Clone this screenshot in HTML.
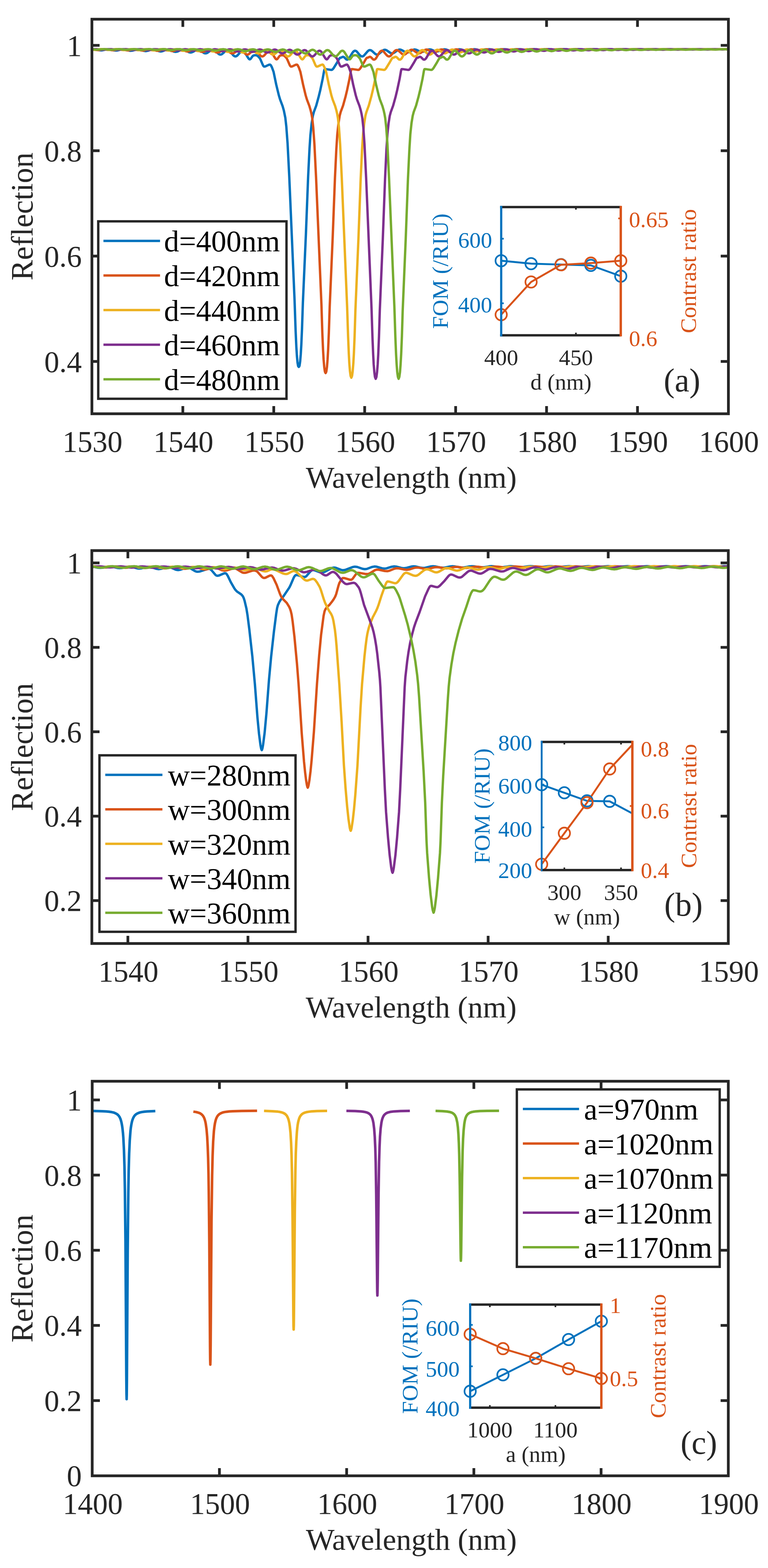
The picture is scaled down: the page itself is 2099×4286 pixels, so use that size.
<!DOCTYPE html><html><head><meta charset="utf-8"><style>html,body{margin:0;padding:0;background:#fff;}svg{display:block;}text{font-family:'Liberation Serif', 'Times New Roman', serif;}</style></head><body><svg width="2099" height="4286" viewBox="0 0 2099 4286" font-family="'Liberation Serif', 'Times New Roman', serif">
<rect width="2099" height="4286" fill="#fff"/>
<defs><clipPath id="clipA"><rect x="251.2" y="52.5" width="1739.6" height="1078.5"/></clipPath><clipPath id="clipB"><rect x="251.0" y="1505" width="1739.5" height="1074"/></clipPath><clipPath id="clipC"><rect x="252.0" y="2955.5" width="1738.5" height="1078.5"/></clipPath></defs>
<g clip-path="url(#clipA)">
<path d="M251.2 134.7 L258.7 134.6 L271.1 137.3 L276.3 137.7 L281.3 137.2 L292.2 134.8 L297.4 134.5 L302.1 135.2 L312.1 137.8 L316.8 138.2 L322.0 137.7 L332.7 134.9 L337.7 134.6 L342.7 135.3 L353.1 138.4 L357.6 138.9 L362.8 138.2 L373.5 135.1 L378.2 134.6 L383.4 135.5 L393.8 139.1 L398.3 139.7 L403.5 138.9 L414.2 135.3 L418.9 134.8 L424.2 135.8 L434.6 140.0 L439.3 140.7 L444.5 139.7 L455.0 135.5 L459.5 134.9 L464.7 136.0 L475.6 141.2 L480.1 141.9 L485.3 140.8 L495.7 135.9 L500.2 135.1 L502.7 135.5 L505.4 136.5 L516.4 142.7 L520.8 143.6 L523.3 143.3 L526.1 142.3 L536.5 136.4 L541.0 135.5 L543.7 136.0 L546.4 137.3 L557.1 144.7 L559.4 145.6 L561.6 145.9 L564.1 145.5 L566.8 144.4 L577.3 137.1 L579.5 136.2 L581.7 136.0 L584.5 136.7 L587.2 138.2 L597.9 147.6 L600.1 148.8 L602.4 149.2 L604.6 148.9 L606.8 147.8 L617.3 138.7 L619.7 137.4 L622.2 136.9 L624.5 137.4 L627.0 138.9 L629.7 141.6 L638.1 151.7 L640.9 153.7 L643.4 154.3 L645.8 153.7 L648.6 151.8 L658.8 140.3 L661.0 138.9 L663.2 138.6 L665.7 139.6 L668.5 142.3 L677.9 157.8 L679.9 160.5 L681.6 162.0 L683.1 162.2 L684.9 161.1 L690.1 153.9 L692.3 151.9 L695.3 151.1 L701.0 151.1 L704.5 153.1 L710.0 159.0 L712.2 163.2 L718.2 177.3 L719.6 179.9 L721.1 181.6 L722.4 182.0 L725.1 181.6 L733.6 177.6 L736.5 176.7 L738.5 176.7 L740.5 178.7 L743.5 184.8 L747.7 196.4 L754.9 231.0 L761.9 259.8 L765.4 271.6 L772.3 289.8 L775.8 302.1 L779.8 321.9 L782.5 345.7 L786.0 392.5 L790.5 481.1 L805.1 821.4 L807.9 903.1 L809.9 947.7 L811.4 971.9 L813.1 990.8 L814.6 999.7 L815.6 1002.0 L816.6 1003.0 L817.6 1002.0 L818.6 999.7 L820.3 988.6 L822.0 968.4 L823.5 942.9 L825.5 896.5 L827.8 827.4 L836.0 641.5 L842.2 481.8 L845.9 406.6 L848.4 368.9 L851.9 336.4 L855.1 316.3 L857.8 306.2 L864.3 288.6 L871.2 263.3 L875.5 245.7 L881.9 215.4 L885.7 194.1 L886.7 190.3 L887.4 188.9 L891.6 189.1 L904.0 190.9 L906.5 190.9 L908.0 190.4 L910.0 188.6 L912.0 186.0 L921.2 171.0 L926.2 162.1 L928.9 158.6 L930.1 157.8 L932.6 157.4 L936.4 155.4 L938.3 155.3 L940.6 156.5 L946.5 162.4 L948.5 163.0 L950.5 162.7 L952.5 161.3 L954.7 158.6 L962.2 145.9 L964.9 142.0 L967.7 139.5 L970.2 138.6 L972.6 139.1 L975.1 140.9 L982.8 150.0 L985.3 152.4 L987.5 153.8 L989.8 154.3 L992.0 153.8 L994.5 152.2 L1004.7 140.3 L1007.2 138.2 L1009.4 137.1 L1011.9 137.0 L1014.6 137.9 L1017.4 139.9 L1025.6 147.3 L1028.3 148.8 L1030.8 149.2 L1033.3 148.7 L1036.0 147.1 L1046.9 137.6 L1049.4 136.4 L1051.7 136.0 L1054.1 136.4 L1056.6 137.5 L1067.1 144.7 L1069.3 145.6 L1071.5 145.9 L1074.0 145.5 L1076.8 144.3 L1087.7 136.7 L1090.2 135.8 L1092.4 135.5 L1094.9 135.8 L1097.4 136.7 L1107.8 142.6 L1112.3 143.6 L1114.8 143.3 L1117.5 142.3 L1128.5 136.2 L1133.2 135.1 L1138.1 136.1 L1148.6 141.1 L1153.1 141.9 L1158.3 140.9 L1169.2 135.8 L1173.9 134.9 L1178.2 135.5 L1188.6 139.7 L1193.8 140.7 L1198.3 140.0 L1209.2 135.7 L1214.7 134.8 L1219.7 135.5 L1230.3 139.1 L1234.8 139.7 L1240.0 138.9 L1250.7 135.2 L1255.4 134.6 L1260.4 135.3 L1271.1 138.4 L1275.6 138.9 L1280.8 138.2 L1291.5 135.1 L1296.2 134.5 L1301.2 135.1 L1311.9 137.8 L1316.3 138.2 L1321.6 137.7 L1332.2 134.9 L1337.0 134.5 L1341.9 134.9 L1352.6 137.4 L1357.1 137.7 L1362.3 137.2 L1373.0 134.8 L1377.7 134.4 L1382.7 134.8 L1393.4 137.0 L1397.8 137.3 L1402.3 136.9 L1413.0 134.8 L1418.2 134.4 L1422.7 134.6 L1433.4 136.5 L1438.6 136.9 L1443.1 136.6 L1453.8 134.8 L1459.0 134.3 L1463.5 134.6 L1474.1 136.2 L1479.4 136.6 L1499.7 134.3 L1520.1 136.3 L1540.5 134.3 L1560.9 136.1 L1581.2 134.3 L1601.6 135.9 L1622.0 134.2 L1642.4 135.7 L1662.8 134.2 L1683.1 135.5 L1703.5 134.2 L1723.9 135.4 L1744.3 134.2 L1764.7 135.3 L1784.8 134.2 L1805.4 135.2 L1825.5 134.2 L1846.2 135.1 L1866.3 134.2 L1886.9 135.0 L1906.8 134.2 L1927.7 134.9 L1946.8 134.2 L1968.4 134.8 L1990.8 134.2" fill="none" stroke="#0072BD" stroke-width="6.5" stroke-linejoin="round" stroke-linecap="butt"/>
<path d="M251.2 134.6 L262.9 136.5 L268.1 136.9 L273.1 136.5 L284.0 134.6 L289.5 134.4 L293.9 134.9 L303.9 136.9 L308.6 137.3 L313.8 136.8 L324.5 134.7 L329.5 134.4 L334.5 135.0 L344.6 137.3 L349.4 137.7 L354.6 137.2 L365.3 134.8 L370.0 134.5 L375.2 135.1 L385.6 137.8 L390.1 138.2 L395.3 137.7 L406.0 134.9 L410.7 134.6 L416.0 135.3 L426.4 138.4 L430.9 138.9 L436.1 138.2 L446.8 135.1 L451.5 134.6 L456.7 135.5 L467.2 139.1 L471.6 139.7 L476.9 138.9 L487.5 135.3 L492.0 134.8 L497.2 135.7 L507.9 140.0 L512.6 140.7 L517.9 139.7 L528.3 135.5 L532.8 134.9 L538.0 136.0 L548.9 141.2 L553.4 141.9 L558.6 140.8 L569.0 135.9 L573.5 135.1 L576.0 135.5 L578.7 136.5 L589.7 142.7 L594.1 143.6 L596.6 143.3 L599.4 142.3 L609.8 136.4 L614.3 135.5 L617.0 136.0 L619.7 137.3 L630.4 144.7 L632.7 145.6 L634.9 145.9 L637.4 145.5 L640.1 144.4 L650.6 137.1 L652.8 136.2 L655.0 136.0 L657.8 136.7 L660.5 138.2 L671.2 147.6 L673.4 148.8 L675.7 149.2 L677.9 148.9 L680.1 147.8 L690.6 138.7 L693.1 137.4 L695.5 136.9 L697.8 137.4 L700.3 138.9 L703.0 141.6 L711.4 151.7 L714.2 153.7 L716.7 154.3 L718.9 153.8 L721.1 152.4 L723.6 150.0 L731.3 140.9 L733.8 139.1 L736.3 138.6 L739.0 139.6 L741.8 142.3 L751.2 157.8 L753.2 160.5 L754.9 162.0 L756.4 162.2 L758.2 161.1 L763.4 153.9 L765.6 151.9 L768.6 151.1 L774.3 151.1 L777.8 153.1 L783.3 159.0 L785.5 163.2 L791.5 177.3 L793.0 179.9 L794.5 181.6 L795.7 182.0 L798.4 181.6 L806.9 177.6 L809.9 176.7 L811.8 176.7 L813.6 178.4 L816.6 184.2 L821.0 196.4 L828.3 231.0 L835.2 259.8 L838.7 271.6 L845.6 289.8 L849.1 302.1 L851.4 312.0 L853.4 323.5 L856.1 348.4 L859.3 393.4 L863.8 484.3 L878.5 832.2 L880.9 908.5 L882.9 956.0 L884.4 982.3 L886.2 1003.4 L887.9 1015.4 L888.9 1018.2 L889.9 1019.7 L890.9 1018.2 L891.9 1015.4 L893.6 1003.4 L895.3 982.3 L896.8 956.0 L898.8 908.5 L901.1 838.3 L909.3 648.2 L915.5 485.3 L919.2 408.1 L921.7 369.2 L924.9 338.3 L928.4 316.3 L931.1 306.2 L937.6 288.6 L944.6 263.3 L948.8 245.7 L955.2 215.4 L959.0 194.1 L960.0 190.3 L960.7 188.9 L964.9 189.1 L977.4 190.9 L979.8 190.9 L981.3 190.4 L983.3 188.6 L985.3 186.0 L994.5 171.0 L999.5 162.1 L1002.2 158.6 L1003.5 157.8 L1005.9 157.4 L1009.7 155.4 L1011.7 155.3 L1013.9 156.5 L1019.9 162.4 L1021.8 163.0 L1023.8 162.7 L1025.8 161.3 L1028.1 158.6 L1035.5 145.9 L1038.2 142.0 L1041.0 139.5 L1043.5 138.6 L1045.9 139.1 L1048.4 140.9 L1056.1 150.0 L1058.6 152.4 L1060.9 153.8 L1063.1 154.3 L1065.3 153.8 L1067.8 152.2 L1078.0 140.3 L1080.5 138.2 L1082.7 137.1 L1085.2 137.0 L1087.9 137.9 L1090.7 139.9 L1098.9 147.3 L1101.6 148.8 L1104.1 149.2 L1106.6 148.7 L1109.3 147.1 L1120.3 137.6 L1122.7 136.4 L1125.0 136.0 L1127.5 136.4 L1129.9 137.5 L1140.4 144.7 L1142.6 145.6 L1144.9 145.9 L1147.3 145.5 L1150.1 144.3 L1161.0 136.7 L1163.5 135.8 L1165.7 135.5 L1168.2 135.8 L1170.7 136.7 L1181.1 142.6 L1185.6 143.6 L1188.1 143.3 L1190.8 142.3 L1201.8 136.2 L1206.5 135.1 L1211.5 136.1 L1221.9 141.1 L1226.4 141.9 L1231.6 140.9 L1242.5 135.8 L1247.2 134.9 L1251.5 135.5 L1261.9 139.7 L1267.1 140.7 L1271.6 140.0 L1282.5 135.7 L1288.0 134.8 L1293.0 135.5 L1303.7 139.1 L1308.1 139.7 L1313.4 138.9 L1324.0 135.2 L1328.8 134.6 L1333.7 135.3 L1344.4 138.4 L1348.9 138.9 L1354.1 138.2 L1364.8 135.1 L1369.5 134.5 L1374.5 135.1 L1385.2 137.8 L1389.6 138.2 L1394.9 137.7 L1405.5 134.9 L1410.3 134.5 L1415.2 134.9 L1425.9 137.4 L1430.4 137.7 L1435.6 137.2 L1446.3 134.8 L1451.0 134.4 L1456.0 134.8 L1466.7 137.0 L1471.2 137.3 L1475.6 136.9 L1486.3 134.8 L1491.5 134.4 L1496.0 134.6 L1506.7 136.5 L1511.9 136.9 L1516.4 136.6 L1527.1 134.8 L1532.3 134.3 L1536.8 134.6 L1547.5 136.2 L1552.7 136.6 L1573.0 134.3 L1593.4 136.3 L1613.8 134.3 L1634.2 136.1 L1654.6 134.3 L1674.9 135.9 L1695.3 134.2 L1715.7 135.7 L1736.1 134.2 L1756.5 135.5 L1776.8 134.2 L1797.2 135.4 L1817.6 134.2 L1838.0 135.3 L1858.1 134.2 L1878.5 135.2 L1898.8 134.2 L1919.2 135.1 L1939.4 134.2 L1959.5 135.0 L1979.4 134.2 L1990.8 134.5" fill="none" stroke="#D95319" stroke-width="6.5" stroke-linejoin="round" stroke-linecap="butt"/>
<path d="M251.2 136.0 L259.4 136.2 L272.1 134.6 L277.3 134.3 L282.3 134.7 L293.2 136.4 L298.4 136.6 L313.1 134.6 L317.8 134.3 L323.0 134.8 L333.7 136.6 L338.7 136.9 L343.6 136.5 L353.8 134.7 L358.6 134.4 L363.8 134.8 L374.5 136.9 L379.2 137.3 L384.4 136.8 L394.8 134.7 L399.3 134.4 L404.5 134.9 L415.2 137.3 L419.9 137.7 L425.2 137.2 L435.6 134.8 L440.1 134.5 L445.3 135.1 L456.0 137.8 L460.7 138.2 L465.9 137.6 L476.4 134.9 L480.8 134.5 L486.0 135.2 L496.7 138.4 L501.5 138.9 L506.7 138.2 L517.1 135.1 L521.6 134.6 L526.8 135.4 L537.5 139.1 L542.2 139.7 L547.4 138.9 L557.9 135.3 L562.3 134.8 L567.6 135.7 L578.2 140.0 L583.0 140.7 L588.2 139.7 L598.6 135.5 L603.1 134.9 L608.3 136.0 L619.2 141.2 L623.7 141.9 L628.9 140.8 L639.4 135.9 L643.9 135.1 L646.3 135.5 L649.1 136.5 L660.0 142.7 L664.5 143.6 L669.0 142.6 L679.4 136.7 L681.9 135.8 L684.4 135.5 L686.6 135.8 L689.1 136.7 L700.0 144.3 L702.8 145.5 L705.2 145.9 L707.5 145.6 L709.7 144.7 L720.1 137.5 L722.6 136.4 L725.1 136.0 L727.9 136.6 L730.6 138.1 L741.8 147.8 L744.0 148.8 L746.2 149.2 L748.7 148.7 L751.5 147.2 L761.6 138.2 L763.9 137.2 L765.9 136.9 L768.1 137.4 L770.6 138.9 L773.3 141.6 L781.8 151.7 L784.5 153.7 L787.0 154.3 L789.2 153.8 L791.5 152.4 L794.0 150.0 L801.7 140.9 L804.1 139.1 L806.6 138.6 L809.4 139.6 L812.1 142.3 L821.5 157.8 L823.5 160.5 L825.3 162.0 L826.8 162.2 L828.5 161.1 L833.7 153.9 L836.0 151.9 L838.9 151.1 L844.7 151.1 L848.1 153.1 L853.6 159.0 L855.8 163.2 L861.8 177.3 L863.3 179.9 L864.8 181.6 L866.0 182.0 L868.8 181.6 L877.0 177.7 L879.9 176.7 L881.9 176.6 L883.7 178.1 L886.9 184.2 L891.4 196.4 L898.6 231.0 L905.5 259.8 L909.0 271.6 L916.0 289.8 L919.5 302.1 L921.7 312.0 L923.7 323.5 L926.4 348.4 L929.6 394.1 L934.1 486.8 L948.8 840.5 L951.3 917.9 L953.3 966.2 L954.7 993.1 L956.5 1014.9 L958.2 1027.6 L960.2 1032.6 L962.2 1027.6 L963.9 1014.9 L965.7 993.1 L967.2 966.2 L969.2 917.9 L971.4 846.8 L979.6 653.3 L985.8 488.0 L989.5 409.3 L992.3 366.4 L995.5 336.4 L998.7 316.3 L1001.5 306.2 L1007.9 288.6 L1014.9 263.3 L1019.1 245.7 L1025.6 215.4 L1029.3 194.1 L1030.3 190.3 L1031.0 188.9 L1035.3 189.1 L1047.7 190.9 L1050.2 190.9 L1051.7 190.4 L1053.7 188.6 L1055.6 186.0 L1064.8 171.0 L1069.8 162.1 L1072.5 158.6 L1073.8 157.8 L1076.3 157.4 L1080.0 155.4 L1082.0 155.3 L1084.2 156.5 L1090.2 162.4 L1092.2 163.0 L1094.2 162.7 L1096.1 161.3 L1098.4 158.6 L1105.8 145.9 L1108.6 142.0 L1111.3 139.5 L1113.8 138.6 L1116.3 139.1 L1118.8 140.9 L1126.5 150.0 L1129.0 152.4 L1131.2 153.8 L1133.4 154.3 L1135.9 153.7 L1138.6 151.7 L1147.1 141.6 L1149.8 138.9 L1152.3 137.4 L1154.5 136.9 L1156.5 137.2 L1158.8 138.2 L1169.0 147.2 L1171.7 148.7 L1174.2 149.2 L1176.4 148.8 L1178.7 147.8 L1189.8 138.1 L1192.6 136.6 L1195.3 136.0 L1197.8 136.4 L1200.3 137.5 L1210.7 144.7 L1213.0 145.6 L1215.2 145.9 L1217.7 145.5 L1220.4 144.3 L1231.3 136.7 L1233.8 135.8 L1236.1 135.5 L1238.5 135.8 L1241.0 136.7 L1251.5 142.6 L1255.9 143.6 L1258.4 143.3 L1261.2 142.3 L1272.1 136.2 L1276.8 135.1 L1281.8 136.1 L1292.2 141.1 L1296.7 141.9 L1301.9 140.9 L1312.9 135.8 L1317.6 134.9 L1321.8 135.5 L1332.2 139.7 L1337.5 140.7 L1341.9 140.0 L1352.9 135.7 L1358.3 134.8 L1363.3 135.5 L1374.0 139.1 L1378.5 139.7 L1383.7 138.9 L1394.4 135.2 L1399.1 134.6 L1404.1 135.3 L1414.7 138.4 L1419.2 138.9 L1424.4 138.2 L1435.1 135.1 L1439.8 134.5 L1444.8 135.1 L1455.5 137.8 L1460.0 138.2 L1465.2 137.7 L1475.9 134.9 L1480.6 134.5 L1485.6 134.9 L1496.3 137.4 L1500.7 137.7 L1505.9 137.2 L1516.6 134.8 L1521.4 134.4 L1526.3 134.8 L1537.0 137.0 L1541.5 137.3 L1546.7 136.8 L1557.4 134.7 L1562.1 134.4 L1567.1 134.7 L1577.8 136.6 L1582.2 136.9 L1586.7 136.6 L1597.4 134.8 L1602.6 134.3 L1607.1 134.6 L1617.8 136.2 L1623.0 136.6 L1643.4 134.3 L1663.8 136.3 L1684.1 134.3 L1704.5 136.1 L1724.9 134.3 L1745.0 135.9 L1765.6 134.2 L1785.8 135.7 L1806.4 134.2 L1826.5 135.5 L1847.2 134.2 L1867.0 135.4 L1887.9 134.2 L1907.5 135.3 L1928.7 134.2 L1947.8 135.2 L1969.4 134.2 L1990.8 135.1" fill="none" stroke="#EDB120" stroke-width="6.5" stroke-linejoin="round" stroke-linecap="butt"/>
<path d="M251.2 135.2 L258.2 134.4 L263.4 134.3 L278.0 135.9 L283.3 136.1 L298.4 134.5 L303.4 134.3 L318.8 136.1 L323.8 136.3 L339.2 134.5 L343.9 134.3 L348.9 134.7 L359.6 136.3 L364.3 136.6 L369.2 136.2 L379.9 134.6 L384.4 134.3 L389.6 134.8 L400.3 136.6 L405.0 136.9 L410.2 136.5 L420.7 134.6 L425.2 134.4 L430.4 134.8 L441.1 136.9 L445.8 137.3 L451.0 136.8 L461.4 134.7 L465.9 134.4 L471.1 134.9 L481.8 137.3 L486.3 137.7 L491.5 137.2 L502.2 134.8 L506.7 134.5 L511.9 135.1 L522.6 137.8 L527.1 138.2 L532.3 137.7 L543.0 134.9 L547.4 134.5 L552.6 135.2 L563.3 138.4 L567.8 138.9 L573.0 138.2 L583.7 135.1 L588.2 134.6 L593.4 135.4 L604.1 139.1 L608.8 139.7 L614.0 138.9 L624.5 135.3 L628.9 134.8 L634.2 135.7 L644.8 140.0 L649.6 140.7 L654.8 139.7 L665.2 135.5 L669.7 134.9 L674.9 136.0 L685.9 141.2 L690.3 141.9 L694.8 141.1 L705.2 136.1 L710.2 135.1 L714.9 136.2 L725.9 142.3 L728.6 143.3 L731.1 143.6 L735.6 142.6 L746.0 136.7 L748.5 135.8 L751.0 135.5 L753.2 135.8 L755.7 136.7 L766.6 144.3 L769.4 145.5 L771.8 145.9 L774.1 145.6 L776.3 144.7 L786.7 137.5 L789.2 136.4 L791.7 136.0 L794.5 136.6 L797.2 138.1 L808.4 147.8 L810.6 148.8 L812.8 149.2 L815.3 148.7 L818.1 147.2 L828.3 138.2 L830.5 137.2 L832.5 136.9 L834.7 137.4 L837.2 138.9 L839.9 141.6 L848.4 151.7 L851.1 153.7 L853.6 154.3 L855.8 153.8 L858.1 152.4 L860.6 150.0 L868.3 140.9 L870.7 139.1 L873.2 138.6 L876.0 139.6 L878.7 142.3 L888.1 157.8 L890.1 160.5 L891.9 162.0 L893.4 162.2 L895.1 161.1 L900.3 153.9 L902.6 151.9 L905.5 151.1 L911.3 151.1 L914.7 153.1 L920.2 159.0 L922.4 163.2 L928.4 177.3 L929.9 179.9 L931.4 181.6 L932.6 182.0 L935.6 181.5 L943.6 177.7 L946.3 176.8 L948.5 176.6 L950.0 177.8 L953.3 183.6 L958.0 196.4 L965.2 231.0 L972.1 259.8 L975.6 271.6 L982.6 289.8 L986.1 302.1 L988.3 312.0 L990.3 323.5 L993.0 348.4 L996.2 394.3 L1000.7 487.3 L1015.4 842.4 L1017.9 920.0 L1019.9 968.5 L1021.3 995.5 L1023.1 1017.4 L1024.8 1030.3 L1026.8 1035.5 L1028.8 1030.3 L1030.5 1017.4 L1032.3 995.5 L1033.8 968.5 L1035.8 920.0 L1038.0 848.7 L1046.2 654.5 L1052.4 488.6 L1056.1 409.6 L1058.9 366.4 L1062.1 336.4 L1065.3 316.3 L1068.1 306.2 L1074.5 288.6 L1081.5 263.3 L1085.7 245.7 L1092.2 215.4 L1095.9 194.1 L1096.9 190.3 L1097.6 188.9 L1101.9 189.1 L1114.3 190.9 L1116.8 190.9 L1118.3 190.4 L1120.3 188.6 L1122.2 186.0 L1131.4 171.0 L1136.4 162.1 L1139.1 158.6 L1140.4 157.8 L1142.9 157.4 L1146.6 155.4 L1148.6 155.3 L1150.8 156.5 L1156.8 162.4 L1158.8 163.0 L1160.8 162.7 L1162.8 161.3 L1165.0 158.6 L1172.4 145.9 L1175.2 142.0 L1177.9 139.5 L1180.4 138.6 L1182.9 139.1 L1185.4 140.9 L1193.1 150.0 L1195.6 152.4 L1197.8 153.8 L1200.0 154.3 L1202.5 153.7 L1205.2 151.7 L1213.7 141.6 L1216.4 138.9 L1218.9 137.4 L1221.2 136.9 L1223.1 137.2 L1225.4 138.2 L1235.6 147.2 L1238.3 148.7 L1240.8 149.2 L1243.0 148.8 L1245.3 147.8 L1256.4 138.1 L1259.2 136.6 L1261.9 136.0 L1264.4 136.4 L1266.9 137.5 L1277.3 144.7 L1279.6 145.6 L1281.8 145.9 L1284.3 145.5 L1287.0 144.3 L1297.9 136.7 L1300.4 135.8 L1302.7 135.5 L1305.1 135.8 L1307.6 136.7 L1318.1 142.6 L1322.5 143.6 L1325.0 143.3 L1327.8 142.3 L1338.7 136.2 L1343.4 135.1 L1348.4 136.1 L1358.8 141.1 L1363.3 141.9 L1368.5 140.9 L1379.5 135.8 L1384.2 134.9 L1388.4 135.5 L1398.8 139.7 L1404.1 140.7 L1408.5 140.0 L1419.5 135.7 L1424.9 134.8 L1429.9 135.5 L1440.6 139.1 L1445.1 139.7 L1449.5 139.1 L1460.2 135.4 L1465.4 134.6 L1469.9 135.1 L1480.6 138.2 L1485.8 138.9 L1490.3 138.4 L1501.0 135.2 L1506.2 134.5 L1510.7 134.9 L1521.4 137.7 L1526.6 138.2 L1531.0 137.8 L1541.7 135.1 L1547.0 134.5 L1551.4 134.8 L1562.1 137.2 L1567.3 137.7 L1571.8 137.3 L1582.5 134.9 L1587.7 134.4 L1592.2 134.7 L1602.9 136.8 L1608.1 137.3 L1612.6 136.9 L1623.2 134.8 L1628.5 134.4 L1632.9 134.6 L1643.6 136.5 L1648.8 136.9 L1653.3 136.6 L1664.0 134.8 L1669.2 134.3 L1673.7 134.6 L1684.4 136.2 L1689.6 136.6 L1710.0 134.3 L1730.4 136.3 L1750.7 134.3 L1771.1 136.1 L1791.5 134.3 L1811.9 135.9 L1832.0 134.2 L1852.6 135.7 L1872.8 134.2 L1893.4 135.5 L1913.3 134.2 L1934.1 135.4 L1953.3 134.2 L1974.6 135.3 L1990.8 134.3" fill="none" stroke="#7E2F8E" stroke-width="6.5" stroke-linejoin="round" stroke-linecap="butt"/>
<path d="M251.2 134.7 L264.4 135.7 L285.0 134.3 L304.6 135.9 L325.3 134.3 L345.4 136.1 L365.8 134.3 L385.9 136.3 L406.5 134.3 L426.7 136.6 L431.9 136.2 L442.6 134.6 L447.0 134.3 L452.2 134.8 L462.9 136.6 L467.4 136.9 L472.6 136.5 L483.3 134.6 L487.8 134.4 L493.0 134.8 L503.7 136.9 L508.2 137.3 L513.4 136.8 L524.1 134.7 L528.5 134.4 L533.8 134.9 L544.4 137.3 L548.9 137.7 L554.1 137.2 L564.8 134.8 L569.3 134.5 L574.5 135.1 L585.2 137.8 L589.7 138.2 L594.9 137.7 L605.6 134.9 L610.1 134.5 L615.3 135.2 L626.0 138.4 L630.4 138.9 L635.7 138.2 L646.3 135.1 L650.8 134.6 L656.0 135.4 L666.7 139.1 L671.2 139.7 L676.4 138.9 L687.1 135.3 L691.6 134.8 L696.8 135.7 L707.5 140.0 L712.2 140.7 L717.4 139.7 L727.9 135.5 L732.3 134.9 L737.5 136.0 L748.5 141.2 L753.0 141.9 L757.4 141.1 L767.9 136.1 L772.8 135.1 L777.6 136.2 L788.5 142.3 L791.2 143.3 L793.7 143.6 L798.2 142.6 L808.6 136.7 L811.1 135.8 L813.6 135.5 L815.8 135.8 L818.3 136.7 L829.2 144.3 L832.0 145.5 L834.5 145.9 L836.7 145.6 L838.9 144.7 L849.4 137.5 L851.9 136.4 L854.3 136.0 L857.1 136.6 L859.8 138.1 L871.0 147.8 L873.2 148.8 L875.5 149.2 L878.0 148.7 L880.7 147.2 L890.9 138.2 L893.1 137.2 L895.1 136.9 L897.3 137.4 L899.8 138.9 L902.6 141.6 L911.0 151.7 L913.7 153.7 L916.2 154.3 L918.5 153.8 L920.7 152.4 L923.2 150.0 L930.9 140.9 L933.4 139.1 L935.9 138.6 L938.6 139.6 L941.3 142.3 L950.8 157.8 L952.8 160.5 L954.5 162.0 L956.0 162.2 L957.7 161.1 L962.9 153.9 L965.2 151.9 L968.2 151.1 L973.9 151.1 L977.4 153.1 L982.8 159.0 L985.1 163.2 L991.0 177.3 L992.5 179.9 L994.0 181.6 L995.3 182.0 L998.2 181.5 L1006.2 177.7 L1008.9 176.8 L1010.9 176.6 L1012.4 177.5 L1013.9 179.5 L1015.6 183.0 L1020.6 196.4 L1027.8 231.0 L1034.8 259.8 L1038.2 271.6 L1045.2 289.8 L1048.7 302.1 L1050.9 312.0 L1052.9 323.5 L1055.6 348.4 L1058.9 394.3 L1063.3 487.3 L1078.0 842.4 L1080.5 920.0 L1082.5 968.5 L1084.0 995.5 L1085.7 1017.4 L1087.5 1030.3 L1089.4 1035.5 L1091.4 1030.3 L1093.2 1017.4 L1094.9 995.5 L1096.4 968.5 L1098.4 920.0 L1100.6 848.7 L1108.8 654.5 L1115.0 488.6 L1118.8 409.6 L1121.5 366.4 L1124.7 336.4 L1128.0 316.3 L1130.7 306.2 L1137.2 288.6 L1144.1 263.3 L1148.3 245.7 L1154.8 215.4 L1158.5 194.1 L1159.5 190.3 L1160.3 188.9 L1164.5 189.1 L1176.9 190.9 L1179.4 190.9 L1180.9 190.4 L1182.9 188.6 L1184.9 186.0 L1194.1 171.0 L1199.0 162.1 L1201.8 158.6 L1203.0 157.8 L1205.5 157.4 L1209.2 155.4 L1211.2 155.3 L1213.4 156.5 L1219.4 162.4 L1221.4 163.0 L1223.4 162.7 L1225.4 161.3 L1227.6 158.6 L1235.1 145.9 L1237.8 142.0 L1240.5 139.5 L1243.0 138.6 L1245.5 139.1 L1248.0 140.9 L1255.7 150.0 L1258.2 152.4 L1260.4 153.8 L1262.7 154.3 L1265.1 153.7 L1267.9 151.7 L1276.3 141.6 L1279.1 138.9 L1281.5 137.4 L1283.8 136.9 L1285.8 137.2 L1288.0 138.2 L1298.2 147.2 L1300.9 148.7 L1303.4 149.2 L1305.6 148.8 L1307.9 147.8 L1319.1 138.1 L1321.8 136.6 L1324.5 136.0 L1327.0 136.4 L1329.5 137.5 L1339.9 144.7 L1342.2 145.6 L1344.4 145.9 L1346.9 145.5 L1349.6 144.3 L1360.6 136.7 L1363.1 135.8 L1365.3 135.5 L1367.8 135.8 L1370.3 136.7 L1380.7 142.6 L1385.2 143.6 L1387.7 143.3 L1390.4 142.3 L1401.3 136.2 L1406.0 135.1 L1411.0 136.1 L1421.5 141.1 L1425.9 141.9 L1431.1 140.9 L1442.1 135.8 L1446.8 134.9 L1451.0 135.5 L1461.5 139.7 L1466.7 140.7 L1471.2 140.0 L1482.1 135.7 L1487.6 134.8 L1491.8 135.3 L1502.2 138.9 L1507.4 139.7 L1511.9 139.1 L1522.8 135.4 L1528.3 134.6 L1533.3 135.3 L1544.0 138.4 L1548.4 138.9 L1552.9 138.4 L1563.6 135.2 L1568.8 134.5 L1573.3 134.9 L1584.0 137.7 L1589.2 138.2 L1593.7 137.8 L1604.4 135.1 L1609.6 134.5 L1614.1 134.8 L1624.7 137.2 L1630.0 137.7 L1634.4 137.3 L1645.1 134.9 L1650.3 134.4 L1654.8 134.7 L1665.5 136.8 L1670.7 137.3 L1675.2 136.9 L1685.9 134.8 L1691.1 134.4 L1695.6 134.6 L1706.3 136.5 L1711.5 136.9 L1715.9 136.6 L1726.6 134.8 L1731.8 134.3 L1736.3 134.6 L1747.0 136.2 L1752.0 136.6 L1756.7 136.3 L1767.4 134.7 L1772.6 134.3 L1792.7 136.3 L1813.4 134.3 L1833.5 136.1 L1854.1 134.3 L1874.2 135.9 L1894.9 134.2 L1914.8 135.7 L1935.4 134.2 L1955.0 135.5 L1975.9 134.2 L1990.8 135.2" fill="none" stroke="#77AC30" stroke-width="6.5" stroke-linejoin="round" stroke-linecap="butt"/>
</g>
<g clip-path="url(#clipB)">
<path d="M251.0 1548.3 L267.4 1551.7 L274.0 1552.3 L280.5 1551.7 L295.3 1548.7 L302.2 1548.3 L308.1 1549.2 L321.2 1552.5 L327.1 1553.1 L333.7 1552.4 L348.5 1549.0 L354.7 1548.6 L360.9 1549.6 L374.4 1553.5 L380.3 1554.2 L386.9 1553.4 L401.3 1549.6 L407.6 1549.0 L413.8 1550.1 L427.6 1554.9 L433.5 1555.8 L440.0 1554.9 L454.5 1550.4 L460.7 1549.7 L467.0 1551.2 L480.7 1557.2 L486.7 1558.3 L493.2 1557.2 L508.0 1551.9 L513.9 1551.2 L519.1 1552.6 L532.9 1560.9 L536.2 1562.2 L539.2 1562.8 L543.1 1562.6 L547.4 1561.7 L565.8 1555.6 L570.0 1554.9 L573.0 1555.0 L575.3 1556.2 L577.9 1558.5 L588.7 1571.2 L591.0 1573.0 L593.3 1573.8 L595.9 1573.7 L598.9 1573.0 L609.4 1568.4 L613.3 1567.1 L616.6 1566.9 L618.9 1568.5 L622.5 1574.0 L630.7 1591.2 L639.3 1606.2 L642.9 1611.8 L647.8 1616.9 L659.3 1624.8 L661.9 1627.5 L664.2 1630.7 L666.2 1635.1 L668.5 1642.3 L673.4 1662.9 L676.4 1681.2 L681.3 1719.3 L689.8 1795.5 L696.7 1870.8 L703.6 1961.1 L707.9 2005.6 L711.8 2036.0 L713.4 2044.8 L714.8 2049.4 L715.4 2050.4 L716.1 2049.4 L717.4 2044.8 L719.0 2036.0 L723.3 2002.5 L728.2 1949.4 L735.1 1859.1 L741.0 1795.1 L748.6 1726.8 L754.8 1678.5 L757.4 1661.8 L759.4 1654.3 L763.7 1644.9 L766.9 1639.9 L774.5 1630.2 L790.6 1606.2 L793.9 1599.8 L803.0 1578.5 L805.7 1574.2 L808.3 1571.9 L810.3 1571.7 L813.5 1572.2 L827.0 1576.5 L832.9 1577.2 L835.2 1576.3 L837.5 1574.6 L848.7 1561.7 L851.3 1559.5 L853.9 1558.3 L856.9 1558.3 L860.5 1559.1 L874.9 1564.4 L877.9 1564.9 L880.8 1564.9 L884.1 1564.3 L887.7 1563.0 L903.8 1554.1 L907.7 1552.5 L911.0 1551.6 L914.3 1551.4 L917.6 1551.9 L932.0 1557.6 L935.3 1558.4 L938.3 1558.5 L941.9 1558.1 L946.1 1556.9 L963.2 1550.2 L967.1 1549.3 L970.4 1549.0 L976.3 1549.7 L990.8 1554.8 L997.3 1555.8 L1002.9 1555.0 L1017.4 1549.6 L1023.9 1548.5 L1029.5 1549.1 L1043.9 1553.4 L1050.5 1554.3 L1056.1 1553.6 L1070.5 1549.1 L1077.1 1548.2 L1082.7 1548.7 L1097.1 1552.5 L1103.7 1553.2 L1109.3 1552.6 L1123.7 1548.8 L1130.3 1548.0 L1135.8 1548.5 L1150.3 1551.8 L1156.9 1552.4 L1162.4 1551.9 L1176.9 1548.5 L1183.4 1547.8 L1189.0 1548.3 L1203.5 1551.2 L1210.0 1551.8 L1215.6 1551.4 L1230.0 1548.4 L1236.6 1547.7 L1242.2 1548.2 L1256.6 1550.8 L1263.2 1551.4 L1268.8 1551.0 L1283.2 1548.2 L1289.8 1547.7 L1295.4 1548.0 L1309.8 1550.5 L1316.4 1551.0 L1321.9 1550.6 L1336.4 1548.1 L1342.9 1547.6 L1348.5 1548.0 L1363.0 1550.2 L1369.5 1550.7 L1375.1 1550.3 L1389.2 1548.1 L1395.8 1547.6 L1401.7 1547.9 L1416.1 1550.0 L1422.7 1550.4 L1428.3 1550.1 L1442.4 1548.0 L1449.0 1547.5 L1454.9 1547.8 L1469.3 1549.8 L1475.9 1550.2 L1481.5 1549.9 L1495.6 1548.0 L1502.1 1547.5 L1508.0 1547.8 L1522.5 1549.6 L1529.0 1550.0 L1555.3 1547.5 L1582.2 1549.8 L1608.5 1547.5 L1635.4 1549.7 L1661.6 1547.5 L1688.5 1549.5 L1714.8 1547.5 L1741.7 1549.4 L1768.0 1547.4 L1794.9 1549.3 L1821.1 1547.4 L1847.7 1549.2 L1874.0 1547.4 L1900.9 1549.1 L1926.8 1547.4 L1953.7 1549.0 L1978.4 1547.5 L1990.5 1547.9" fill="none" stroke="#0072BD" stroke-width="6.5" stroke-linejoin="round" stroke-linecap="butt"/>
<path d="M251.0 1549.0 L258.2 1548.2 L263.8 1548.2 L282.2 1550.9 L288.7 1551.3 L295.3 1550.8 L310.1 1548.6 L316.6 1548.3 L322.9 1548.9 L336.7 1551.4 L342.6 1551.9 L349.1 1551.4 L364.2 1548.9 L370.5 1548.5 L376.7 1549.2 L390.8 1552.1 L396.7 1552.6 L403.3 1552.0 L418.4 1549.2 L424.3 1548.8 L430.9 1549.6 L445.0 1552.9 L450.9 1553.5 L457.4 1552.9 L472.5 1549.7 L478.4 1549.3 L485.0 1550.2 L499.1 1554.1 L505.0 1554.8 L511.6 1554.1 L526.7 1550.5 L532.6 1550.1 L539.2 1551.2 L553.3 1555.9 L559.2 1556.7 L565.8 1555.9 L580.8 1551.9 L586.8 1551.3 L589.7 1551.7 L593.3 1552.8 L607.4 1558.9 L613.0 1559.9 L619.9 1559.0 L635.0 1554.4 L640.9 1553.7 L643.5 1554.2 L646.5 1555.3 L660.3 1563.7 L663.6 1565.2 L666.5 1565.8 L669.8 1565.7 L673.7 1565.0 L690.5 1559.7 L694.7 1559.3 L697.7 1559.9 L701.3 1561.3 L703.6 1562.9 L715.4 1576.4 L718.0 1578.6 L720.7 1579.8 L723.0 1579.8 L725.9 1579.0 L734.8 1574.5 L738.4 1573.1 L741.3 1572.9 L743.6 1574.5 L747.6 1580.5 L756.1 1598.7 L765.3 1623.7 L768.6 1631.0 L773.2 1637.4 L783.7 1648.0 L789.9 1657.9 L792.2 1662.9 L794.5 1669.3 L797.1 1680.2 L799.8 1698.6 L804.7 1740.3 L811.6 1813.8 L816.2 1872.6 L824.7 2005.0 L830.9 2082.0 L833.9 2111.1 L836.5 2132.1 L838.8 2145.9 L840.1 2151.0 L841.1 2153.0 L842.1 2151.0 L843.4 2145.9 L845.7 2132.1 L848.7 2108.1 L851.6 2078.5 L857.9 2000.4 L866.4 1868.1 L872.3 1791.4 L877.5 1735.6 L884.4 1683.2 L887.1 1670.6 L889.7 1664.8 L892.6 1660.7 L900.5 1653.2 L906.8 1645.3 L912.0 1638.0 L915.9 1631.2 L918.9 1623.7 L924.8 1601.8 L927.4 1593.8 L933.0 1584.0 L935.0 1581.5 L936.6 1580.2 L937.9 1579.9 L941.2 1580.2 L954.7 1584.2 L958.0 1584.7 L960.3 1584.6 L961.9 1583.7 L963.9 1581.9 L973.1 1569.2 L975.0 1567.2 L977.0 1566.0 L978.3 1565.7 L982.2 1565.9 L998.7 1568.9 L1005.5 1569.1 L1008.2 1568.3 L1011.5 1566.8 L1023.9 1558.9 L1029.2 1557.1 L1035.4 1557.3 L1051.5 1560.8 L1058.7 1561.3 L1064.3 1560.1 L1077.1 1554.8 L1082.7 1553.3 L1089.6 1553.5 L1105.7 1556.8 L1112.5 1557.4 L1119.1 1556.3 L1132.9 1552.0 L1138.5 1551.3 L1144.4 1551.6 L1159.5 1554.5 L1166.0 1555.0 L1172.0 1554.4 L1185.7 1551.0 L1192.0 1550.2 L1198.5 1550.5 L1213.6 1553.0 L1220.5 1553.5 L1226.4 1553.0 L1239.6 1550.3 L1245.5 1549.5 L1252.4 1549.7 L1267.8 1552.1 L1274.7 1552.5 L1281.2 1551.9 L1295.7 1549.4 L1301.3 1549.0 L1307.2 1549.3 L1321.6 1551.3 L1328.5 1551.8 L1334.4 1551.4 L1348.9 1549.1 L1355.4 1548.7 L1361.3 1549.0 L1375.8 1550.8 L1382.7 1551.2 L1388.6 1550.8 L1403.0 1548.8 L1409.6 1548.4 L1436.8 1550.7 L1463.7 1548.2 L1491.0 1550.4 L1517.9 1548.1 L1545.1 1550.1 L1572.0 1548.0 L1599.3 1549.8 L1626.2 1547.9 L1653.4 1549.6 L1680.3 1547.8 L1707.6 1549.5 L1734.5 1547.8 L1761.4 1549.3 L1788.3 1547.7 L1815.6 1549.2 L1842.5 1547.7 L1869.7 1549.1 L1896.6 1547.7 L1923.5 1549.0 L1950.5 1547.6 L1976.4 1548.9 L1990.5 1548.3" fill="none" stroke="#D95319" stroke-width="6.5" stroke-linejoin="round" stroke-linecap="butt"/>
<path d="M251.0 1548.4 L266.4 1550.3 L273.6 1550.7 L280.5 1550.4 L296.3 1548.5 L303.5 1548.3 L323.5 1550.8 L330.1 1551.1 L337.0 1550.7 L352.4 1548.7 L359.3 1548.5 L365.9 1549.0 L380.0 1551.2 L386.2 1551.6 L393.4 1551.2 L408.9 1549.0 L415.4 1548.7 L422.0 1549.3 L436.8 1551.8 L442.7 1552.2 L449.9 1551.7 L465.3 1549.4 L471.9 1549.0 L478.4 1549.7 L493.2 1552.6 L499.1 1553.0 L506.3 1552.5 L521.8 1549.9 L528.0 1549.5 L534.9 1550.3 L549.7 1553.6 L555.6 1554.1 L562.8 1553.5 L578.2 1550.6 L584.5 1550.2 L591.4 1551.1 L606.1 1555.0 L612.0 1555.7 L619.2 1555.0 L634.7 1551.8 L640.9 1551.3 L646.8 1552.2 L661.3 1556.9 L667.8 1558.1 L675.4 1557.4 L691.8 1553.6 L699.0 1553.3 L704.9 1554.9 L718.7 1560.9 L724.9 1562.1 L729.9 1561.2 L740.4 1556.6 L745.3 1556.0 L748.9 1556.6 L752.8 1557.8 L771.9 1566.9 L776.5 1568.4 L780.4 1569.1 L783.4 1569.0 L786.6 1568.1 L796.5 1562.8 L799.8 1561.4 L802.7 1560.9 L805.3 1561.1 L808.6 1562.5 L812.6 1565.3 L828.0 1581.1 L831.6 1584.1 L834.9 1586.1 L837.8 1587.0 L841.1 1586.8 L851.6 1583.0 L855.6 1582.3 L858.5 1583.1 L861.5 1585.5 L866.4 1591.9 L873.6 1604.1 L877.2 1613.3 L885.1 1638.4 L888.7 1648.3 L896.9 1665.1 L899.5 1669.9 L905.1 1678.4 L907.7 1684.0 L909.4 1689.1 L911.4 1697.6 L915.3 1721.1 L917.6 1740.8 L919.9 1766.6 L927.4 1870.6 L933.7 1974.2 L939.9 2091.2 L944.5 2155.3 L948.8 2204.9 L952.4 2238.7 L956.0 2263.0 L957.6 2269.5 L958.6 2270.9 L959.6 2268.6 L960.9 2263.3 L964.2 2241.8 L967.5 2212.4 L971.1 2172.4 L977.0 2092.3 L985.5 1933.1 L989.5 1869.6 L996.0 1795.3 L999.0 1767.8 L1001.9 1745.1 L1003.9 1733.1 L1005.9 1724.0 L1008.5 1714.2 L1011.5 1705.2 L1018.7 1687.5 L1027.9 1669.9 L1031.1 1662.8 L1034.8 1652.8 L1043.0 1627.1 L1052.5 1600.5 L1055.8 1593.0 L1058.4 1589.7 L1059.7 1589.4 L1063.6 1589.8 L1078.1 1594.0 L1081.4 1594.2 L1083.3 1593.6 L1086.3 1591.5 L1089.2 1588.3 L1102.4 1570.1 L1105.3 1567.3 L1108.3 1565.8 L1110.9 1565.8 L1114.2 1566.4 L1129.6 1572.9 L1133.6 1573.8 L1136.8 1573.9 L1140.1 1573.0 L1143.4 1571.2 L1157.5 1559.8 L1161.1 1557.6 L1164.1 1556.5 L1167.0 1556.1 L1171.0 1556.8 L1174.9 1558.2 L1186.4 1563.4 L1190.0 1564.3 L1193.3 1564.5 L1196.2 1564.0 L1199.8 1562.6 L1214.6 1554.1 L1217.6 1553.0 L1220.5 1552.6 L1226.8 1553.3 L1242.5 1558.6 L1246.5 1559.5 L1249.7 1559.7 L1256.0 1558.6 L1270.1 1552.5 L1276.0 1551.0 L1279.3 1550.9 L1283.2 1551.5 L1299.3 1556.2 L1306.5 1557.1 L1313.4 1555.9 L1328.2 1550.8 L1334.1 1549.9 L1340.0 1550.5 L1355.4 1554.5 L1362.6 1555.4 L1368.5 1554.7 L1383.6 1550.2 L1390.5 1549.3 L1396.4 1549.8 L1411.9 1553.4 L1419.1 1554.2 L1425.0 1553.5 L1440.1 1549.7 L1447.0 1548.9 L1453.2 1549.4 L1468.3 1552.6 L1475.2 1553.3 L1481.5 1552.7 L1496.5 1549.3 L1503.4 1548.6 L1509.7 1549.0 L1524.8 1551.9 L1531.7 1552.6 L1537.9 1552.1 L1553.0 1549.0 L1559.9 1548.3 L1566.1 1548.8 L1581.2 1551.4 L1588.1 1552.0 L1594.4 1551.6 L1609.5 1548.8 L1616.3 1548.2 L1622.6 1548.6 L1637.7 1551.0 L1644.6 1551.6 L1650.8 1551.1 L1665.9 1548.6 L1672.8 1548.1 L1679.0 1548.4 L1694.1 1550.7 L1701.0 1551.2 L1707.3 1550.8 L1722.4 1548.5 L1729.2 1548.0 L1735.5 1548.3 L1750.6 1550.4 L1757.5 1550.9 L1763.7 1550.5 L1778.8 1548.3 L1785.7 1547.9 L1791.9 1548.2 L1806.7 1550.1 L1813.6 1550.6 L1819.8 1550.3 L1835.3 1548.3 L1842.2 1547.8 L1848.4 1548.1 L1863.2 1549.9 L1870.0 1550.4 L1876.3 1550.1 L1891.7 1548.2 L1898.6 1547.8 L1905.2 1548.1 L1925.8 1550.2 L1932.7 1549.9 L1947.8 1548.1 L1954.7 1547.7 L1961.9 1548.0 L1980.0 1549.9 L1990.5 1549.6" fill="none" stroke="#EDB120" stroke-width="6.5" stroke-linejoin="round" stroke-linecap="butt"/>
<path d="M251.0 1550.0 L263.8 1548.4 L271.3 1548.0 L278.2 1548.5 L293.7 1550.7 L301.2 1551.0 L307.8 1550.5 L323.2 1548.5 L330.1 1548.1 L337.0 1548.7 L352.7 1551.1 L359.6 1551.4 L366.5 1550.9 L382.3 1548.6 L388.8 1548.3 L396.1 1548.8 L411.8 1551.5 L418.4 1551.9 L425.6 1551.3 L441.4 1548.8 L447.9 1548.4 L455.1 1549.1 L470.9 1552.0 L477.5 1552.4 L484.7 1551.8 L500.4 1549.1 L507.0 1548.7 L514.2 1549.4 L530.0 1552.6 L536.2 1553.1 L543.4 1552.5 L559.5 1549.5 L566.1 1549.0 L573.3 1549.8 L589.1 1553.5 L595.3 1554.1 L602.5 1553.4 L618.6 1550.0 L625.2 1549.5 L632.4 1550.4 L648.1 1554.6 L654.4 1555.3 L661.6 1554.5 L677.7 1550.7 L684.2 1550.2 L691.5 1551.3 L707.2 1556.3 L713.4 1557.1 L720.7 1556.2 L736.7 1551.9 L743.3 1551.3 L749.5 1552.3 L765.0 1558.4 L771.9 1559.8 L775.5 1559.6 L779.4 1558.9 L796.8 1553.7 L800.7 1553.2 L804.0 1553.3 L810.3 1555.2 L824.7 1562.7 L828.3 1563.9 L831.6 1564.2 L838.8 1563.1 L855.2 1557.6 L861.8 1556.8 L864.7 1557.5 L868.0 1559.0 L882.8 1570.0 L886.4 1571.9 L889.4 1572.8 L892.0 1572.7 L894.6 1571.8 L903.8 1565.5 L906.8 1563.9 L909.7 1563.3 L912.7 1563.8 L915.9 1565.7 L919.9 1569.1 L936.0 1589.0 L939.9 1592.9 L943.2 1595.3 L946.1 1596.4 L949.4 1596.5 L962.6 1593.5 L967.1 1593.1 L970.1 1594.0 L973.4 1596.7 L980.6 1606.1 L983.2 1611.6 L986.2 1621.0 L995.0 1653.6 L1014.7 1706.6 L1018.0 1716.4 L1021.3 1728.7 L1024.9 1746.1 L1028.2 1765.8 L1031.1 1787.3 L1036.4 1836.1 L1038.4 1858.6 L1039.7 1879.4 L1051.8 2156.9 L1055.1 2219.4 L1060.4 2288.6 L1065.0 2337.7 L1069.2 2371.2 L1070.9 2380.0 L1072.2 2384.6 L1072.8 2385.6 L1073.5 2384.6 L1074.8 2380.0 L1076.4 2371.2 L1080.7 2337.7 L1085.3 2288.6 L1090.6 2219.4 L1093.8 2156.9 L1106.0 1878.2 L1107.9 1851.1 L1112.9 1807.1 L1116.5 1782.1 L1120.7 1758.5 L1126.0 1735.2 L1131.6 1714.4 L1136.2 1700.8 L1147.0 1672.5 L1161.8 1630.0 L1171.3 1609.2 L1173.6 1605.0 L1175.6 1602.5 L1177.2 1601.4 L1179.8 1601.5 L1190.3 1604.3 L1193.9 1604.9 L1196.2 1604.7 L1198.5 1603.7 L1203.1 1600.1 L1214.9 1587.7 L1226.1 1574.2 L1228.7 1571.9 L1231.4 1570.6 L1233.7 1570.5 L1236.9 1571.1 L1251.0 1577.7 L1254.7 1578.6 L1257.6 1578.6 L1260.6 1577.7 L1263.5 1575.9 L1277.6 1563.5 L1280.9 1561.3 L1283.9 1560.0 L1286.8 1559.7 L1290.8 1560.4 L1306.5 1566.9 L1310.1 1567.8 L1313.4 1568.0 L1316.4 1567.3 L1320.0 1565.7 L1334.1 1556.8 L1337.0 1555.6 L1340.0 1555.0 L1346.9 1555.7 L1364.0 1561.0 L1368.2 1561.9 L1371.8 1562.1 L1375.1 1561.8 L1378.7 1560.8 L1393.2 1554.2 L1399.4 1552.5 L1403.0 1552.5 L1406.9 1553.0 L1423.7 1557.9 L1431.2 1558.8 L1437.5 1557.9 L1452.9 1552.3 L1456.8 1551.3 L1460.1 1551.0 L1466.7 1551.6 L1482.8 1555.8 L1490.0 1556.7 L1496.2 1555.9 L1512.0 1551.2 L1519.2 1550.1 L1525.8 1550.7 L1541.8 1554.4 L1549.1 1555.2 L1555.3 1554.5 L1571.1 1550.4 L1578.3 1549.5 L1584.8 1550.0 L1600.9 1553.4 L1608.1 1554.1 L1614.4 1553.5 L1630.1 1549.9 L1637.3 1549.1 L1643.9 1549.5 L1660.0 1552.6 L1667.2 1553.3 L1673.8 1552.7 L1689.2 1549.5 L1696.1 1548.8 L1702.7 1549.2 L1719.1 1552.0 L1726.3 1552.6 L1732.9 1552.1 L1748.3 1549.2 L1755.2 1548.5 L1761.7 1548.9 L1778.1 1551.5 L1785.4 1552.1 L1791.9 1551.6 L1807.4 1548.9 L1814.3 1548.4 L1820.8 1548.7 L1837.2 1551.1 L1844.4 1551.6 L1851.0 1551.2 L1866.1 1548.8 L1873.0 1548.2 L1879.9 1548.5 L1896.3 1550.8 L1903.5 1551.3 L1910.4 1550.8 L1924.9 1548.7 L1931.1 1548.1 L1938.6 1548.4 L1955.4 1550.5 L1962.6 1551.0 L1969.2 1550.6 L1983.9 1548.6 L1990.5 1548.0" fill="none" stroke="#7E2F8E" stroke-width="6.5" stroke-linejoin="round" stroke-linecap="butt"/>
<path d="M251.0 1547.9 L268.7 1551.1 L276.3 1551.7 L283.5 1551.1 L300.2 1548.1 L307.8 1547.7 L314.3 1548.5 L329.1 1551.5 L336.0 1552.0 L343.2 1551.4 L359.6 1548.2 L366.9 1547.8 L373.7 1548.6 L388.8 1551.8 L395.7 1552.4 L403.0 1551.7 L419.4 1548.3 L426.3 1547.8 L433.2 1548.6 L448.9 1552.3 L455.5 1552.9 L462.7 1552.1 L479.1 1548.4 L485.7 1547.9 L492.9 1548.8 L508.6 1552.8 L514.9 1553.4 L522.4 1552.6 L538.8 1548.6 L545.4 1548.0 L552.6 1549.0 L568.4 1553.4 L574.6 1554.1 L582.2 1553.2 L598.6 1548.8 L605.1 1548.1 L612.4 1549.2 L628.1 1554.1 L634.3 1554.9 L641.9 1553.9 L658.3 1549.0 L664.9 1548.3 L672.1 1549.6 L687.8 1555.0 L694.1 1555.9 L697.7 1555.6 L701.6 1554.8 L718.0 1549.4 L724.3 1548.6 L730.5 1549.6 L746.6 1555.9 L750.5 1557.0 L753.8 1557.3 L757.4 1557.0 L761.7 1556.0 L778.4 1549.9 L782.0 1549.2 L785.3 1549.0 L791.6 1550.1 L807.6 1556.9 L811.6 1558.1 L815.2 1558.5 L818.5 1558.3 L822.4 1557.4 L839.1 1550.9 L843.1 1550.3 L846.4 1550.4 L852.9 1552.3 L868.0 1559.4 L871.6 1560.5 L874.9 1560.9 L878.2 1560.6 L882.1 1559.6 L897.9 1553.4 L901.5 1552.7 L904.8 1552.6 L908.1 1553.2 L911.4 1554.3 L927.8 1563.3 L931.7 1564.9 L935.3 1565.6 L938.6 1565.6 L941.9 1564.9 L957.0 1559.0 L960.9 1558.5 L963.9 1559.0 L966.8 1560.3 L970.4 1562.6 L985.9 1575.3 L989.5 1577.2 L992.7 1578.1 L996.0 1578.0 L999.6 1576.9 L1014.7 1568.9 L1018.0 1568.1 L1020.6 1568.2 L1022.9 1569.7 L1025.2 1572.3 L1034.8 1587.4 L1045.3 1601.8 L1049.5 1606.2 L1051.8 1607.3 L1054.5 1607.3 L1069.2 1605.3 L1074.5 1604.9 L1076.1 1605.4 L1077.8 1606.7 L1080.4 1610.1 L1083.7 1615.7 L1089.2 1626.8 L1092.5 1634.9 L1107.3 1682.4 L1114.5 1707.9 L1123.4 1745.5 L1129.9 1777.2 L1135.2 1808.2 L1140.1 1844.7 L1142.7 1869.5 L1145.4 1904.7 L1157.8 2109.1 L1162.1 2194.0 L1165.7 2298.7 L1167.4 2331.4 L1172.6 2399.8 L1176.9 2445.4 L1181.1 2479.4 L1182.8 2488.5 L1184.8 2494.7 L1185.4 2494.3 L1186.7 2489.9 L1188.4 2481.4 L1192.6 2448.5 L1197.2 2399.8 L1202.5 2331.4 L1204.1 2298.7 L1207.7 2194.0 L1211.3 2121.0 L1224.1 1909.1 L1226.4 1876.8 L1228.7 1853.1 L1233.7 1816.8 L1238.9 1786.1 L1244.8 1758.3 L1253.7 1722.9 L1262.9 1691.5 L1274.7 1658.0 L1283.2 1631.9 L1287.5 1621.1 L1291.1 1615.1 L1292.7 1613.7 L1294.4 1613.2 L1298.6 1613.7 L1307.8 1616.1 L1311.8 1616.7 L1314.7 1616.6 L1317.7 1615.3 L1321.0 1612.5 L1324.9 1607.8 L1337.0 1589.2 L1341.3 1583.3 L1345.6 1578.9 L1349.2 1576.8 L1351.8 1576.4 L1355.1 1577.0 L1358.7 1578.4 L1369.9 1583.7 L1373.5 1584.6 L1376.8 1584.6 L1380.0 1583.5 L1384.0 1581.1 L1400.4 1566.7 L1404.3 1564.0 L1407.6 1562.6 L1410.9 1562.1 L1414.8 1562.7 L1419.1 1564.4 L1430.9 1570.3 L1434.8 1571.4 L1438.1 1571.5 L1441.4 1570.8 L1444.7 1569.5 L1461.4 1558.8 L1465.4 1557.0 L1469.0 1556.2 L1471.9 1556.2 L1475.2 1557.0 L1489.7 1563.3 L1493.3 1564.3 L1496.2 1564.5 L1499.8 1564.2 L1503.8 1563.1 L1520.2 1555.9 L1527.1 1554.0 L1530.7 1553.8 L1534.9 1554.4 L1552.3 1559.6 L1556.3 1560.3 L1559.9 1560.5 L1566.1 1559.4 L1581.6 1553.5 L1585.5 1552.4 L1588.8 1552.1 L1595.3 1552.7 L1611.7 1557.1 L1619.3 1558.1 L1625.5 1557.2 L1641.3 1552.1 L1648.5 1550.9 L1655.1 1551.5 L1671.5 1555.5 L1679.0 1556.3 L1685.3 1555.6 L1701.0 1551.2 L1708.2 1550.2 L1714.8 1550.7 L1731.2 1554.3 L1738.4 1555.1 L1745.0 1554.4 L1760.8 1550.5 L1768.0 1549.6 L1774.5 1550.1 L1790.9 1553.4 L1798.2 1554.1 L1804.7 1553.5 L1820.5 1550.0 L1827.7 1549.2 L1834.6 1549.7 L1850.4 1552.6 L1857.6 1553.3 L1864.5 1552.8 L1880.2 1549.6 L1887.1 1548.9 L1894.3 1549.4 L1910.1 1552.1 L1917.0 1552.7 L1924.2 1552.2 L1939.6 1549.4 L1946.5 1548.7 L1954.1 1549.1 L1969.2 1551.5 L1975.4 1552.2 L1982.0 1552.0 L1990.5 1550.7" fill="none" stroke="#77AC30" stroke-width="6.5" stroke-linejoin="round" stroke-linecap="butt"/>
</g>
<g clip-path="url(#clipC)">
<path d="M252.0 3036.6 L280.0 3037.4 L290.0 3038.0 L298.0 3038.7 L305.0 3039.8 L310.0 3040.9 L314.0 3042.3 L318.1 3044.3 L321.5 3046.7 L324.3 3049.6 L326.8 3053.3 L328.9 3057.7 L330.7 3063.1 L332.3 3069.5 L333.7 3077.1 L334.9 3085.8 L336.1 3097.1 L337.1 3110.1 L338.8 3143.4 L340.2 3189.3 L341.3 3250.0 L342.9 3391.5 L345.2 3762.1 L345.7 3809.7 L346.1 3824.5 L346.4 3813.1 L346.8 3775.0 L349.0 3423.4 L350.7 3260.2 L351.7 3200.3 L353.0 3152.8 L354.6 3118.1 L356.5 3092.3 L357.6 3082.6 L358.9 3074.4 L360.3 3067.4 L361.9 3061.4 L363.8 3056.5 L365.9 3052.4 L368.3 3049.0 L371.2 3046.2 L374.4 3044.1 L378.1 3042.3 L383.1 3040.7 L388.1 3039.6 L394.1 3038.7 L402.1 3038.0 L424.5 3037.0" fill="none" stroke="#0072BD" stroke-width="7" stroke-linejoin="round" stroke-linecap="butt"/>
<path d="M528.4 3038.6 L534.4 3039.4 L539.4 3040.5 L543.4 3041.8 L546.6 3043.1 L549.6 3044.9 L552.2 3047.1 L554.5 3049.7 L556.5 3052.8 L558.3 3056.6 L559.8 3060.9 L561.2 3066.1 L562.4 3071.9 L564.5 3086.9 L566.2 3106.7 L567.6 3132.8 L568.8 3165.6 L569.8 3208.0 L570.6 3260.0 L572.0 3395.1 L574.0 3680.9 L574.4 3717.0 L574.8 3730.0 L575.2 3717.0 L575.7 3675.0 L578.1 3338.3 L579.8 3213.2 L581.1 3158.8 L582.6 3120.2 L584.6 3091.8 L585.9 3080.6 L587.3 3071.6 L588.7 3065.0 L590.3 3059.3 L592.2 3054.6 L594.4 3050.7 L597.0 3047.6 L600.0 3045.0 L603.6 3042.9 L607.8 3041.2 L612.8 3039.9 L618.8 3038.9 L626.8 3038.0 L635.8 3037.4 L660.8 3036.7 L702.6 3036.2" fill="none" stroke="#D95319" stroke-width="7" stroke-linejoin="round" stroke-linecap="butt"/>
<path d="M721.6 3036.6 L744.6 3037.4 L759.6 3038.6 L764.6 3039.3 L769.6 3040.5 L773.6 3041.8 L777.0 3043.5 L779.9 3045.5 L782.5 3048.1 L784.6 3051.1 L786.5 3054.8 L788.2 3059.2 L789.6 3064.4 L790.9 3070.5 L792.0 3077.9 L794.0 3096.9 L795.6 3123.5 L796.9 3158.9 L798.0 3206.0 L799.6 3329.8 L801.8 3596.5 L802.2 3625.4 L802.6 3634.0 L803.0 3622.8 L803.4 3586.7 L805.8 3305.6 L807.3 3200.8 L808.4 3153.9 L809.8 3119.4 L811.5 3093.3 L812.5 3083.1 L813.6 3074.4 L814.8 3067.6 L816.2 3061.9 L817.7 3057.0 L819.5 3052.9 L821.6 3049.5 L824.0 3046.7 L826.8 3044.3 L830.1 3042.5 L833.6 3041.1 L838.6 3039.7 L843.6 3038.9 L849.6 3038.1 L866.6 3037.1 L894.0 3036.5" fill="none" stroke="#EDB120" stroke-width="7" stroke-linejoin="round" stroke-linecap="butt"/>
<path d="M946.7 3036.5 L970.7 3037.0 L986.7 3038.0 L992.7 3038.7 L997.7 3039.6 L1001.7 3040.6 L1005.1 3041.9 L1008.2 3043.6 L1010.8 3045.7 L1013.1 3048.2 L1015.0 3051.2 L1016.7 3054.8 L1018.2 3059.1 L1019.5 3064.2 L1020.7 3070.1 L1022.7 3086.4 L1024.3 3108.1 L1025.7 3138.3 L1026.8 3177.3 L1028.2 3263.7 L1030.6 3501.1 L1031.0 3531.6 L1031.4 3541.1 L1031.8 3531.6 L1032.3 3501.1 L1034.6 3263.7 L1036.1 3175.2 L1037.3 3135.5 L1038.6 3106.4 L1040.3 3084.9 L1042.4 3069.0 L1043.6 3063.1 L1044.9 3058.2 L1046.5 3054.0 L1048.2 3050.5 L1050.2 3047.6 L1052.6 3045.2 L1055.3 3043.2 L1058.5 3041.6 L1062.4 3040.3 L1066.4 3039.3 L1077.4 3037.9 L1094.4 3036.9 L1120.2 3036.4" fill="none" stroke="#7E2F8E" stroke-width="7" stroke-linejoin="round" stroke-linecap="butt"/>
<path d="M1190.4 3036.6 L1209.4 3037.2 L1221.4 3038.2 L1230.1 3039.8 L1233.4 3040.8 L1236.3 3042.1 L1238.9 3043.8 L1241.1 3045.7 L1243.0 3048.0 L1244.7 3050.8 L1246.2 3054.2 L1247.5 3058.2 L1249.7 3068.0 L1251.5 3082.0 L1252.9 3100.6 L1254.1 3125.1 L1255.1 3156.2 L1256.7 3241.0 L1258.9 3420.3 L1259.3 3440.1 L1259.6 3446.0 L1260.0 3438.4 L1260.5 3413.6 L1262.9 3217.7 L1264.4 3145.6 L1265.6 3113.5 L1267.1 3089.8 L1268.9 3072.6 L1270.0 3065.7 L1271.2 3060.0 L1272.5 3055.6 L1274.0 3051.9 L1275.7 3048.8 L1277.7 3046.2 L1279.9 3044.1 L1282.6 3042.3 L1285.7 3040.9 L1289.4 3039.7 L1293.6 3038.8 L1298.6 3038.1 L1311.6 3037.1 L1331.6 3036.5 L1363.9 3036.2" fill="none" stroke="#77AC30" stroke-width="7" stroke-linejoin="round" stroke-linecap="butt"/>
</g>
<line x1="499.7" y1="1131" x2="499.7" y2="1110" stroke="#262626" stroke-width="7.5" stroke-linecap="butt"/>
<line x1="499.7" y1="52.5" x2="499.7" y2="73.5" stroke="#262626" stroke-width="7.5" stroke-linecap="butt"/>
<line x1="748.2" y1="1131" x2="748.2" y2="1110" stroke="#262626" stroke-width="7.5" stroke-linecap="butt"/>
<line x1="748.2" y1="52.5" x2="748.2" y2="73.5" stroke="#262626" stroke-width="7.5" stroke-linecap="butt"/>
<line x1="996.7" y1="1131" x2="996.7" y2="1110" stroke="#262626" stroke-width="7.5" stroke-linecap="butt"/>
<line x1="996.7" y1="52.5" x2="996.7" y2="73.5" stroke="#262626" stroke-width="7.5" stroke-linecap="butt"/>
<line x1="1245.3" y1="1131" x2="1245.3" y2="1110" stroke="#262626" stroke-width="7.5" stroke-linecap="butt"/>
<line x1="1245.3" y1="52.5" x2="1245.3" y2="73.5" stroke="#262626" stroke-width="7.5" stroke-linecap="butt"/>
<line x1="1493.8" y1="1131" x2="1493.8" y2="1110" stroke="#262626" stroke-width="7.5" stroke-linecap="butt"/>
<line x1="1493.8" y1="52.5" x2="1493.8" y2="73.5" stroke="#262626" stroke-width="7.5" stroke-linecap="butt"/>
<line x1="1742.3" y1="1131" x2="1742.3" y2="1110" stroke="#262626" stroke-width="7.5" stroke-linecap="butt"/>
<line x1="1742.3" y1="52.5" x2="1742.3" y2="73.5" stroke="#262626" stroke-width="7.5" stroke-linecap="butt"/>
<line x1="251.2" y1="988" x2="272.2" y2="988" stroke="#262626" stroke-width="7.5" stroke-linecap="butt"/>
<line x1="1990.8" y1="988" x2="1969.8" y2="988" stroke="#262626" stroke-width="7.5" stroke-linecap="butt"/>
<line x1="251.2" y1="700" x2="272.2" y2="700" stroke="#262626" stroke-width="7.5" stroke-linecap="butt"/>
<line x1="1990.8" y1="700" x2="1969.8" y2="700" stroke="#262626" stroke-width="7.5" stroke-linecap="butt"/>
<line x1="251.2" y1="412" x2="272.2" y2="412" stroke="#262626" stroke-width="7.5" stroke-linecap="butt"/>
<line x1="1990.8" y1="412" x2="1969.8" y2="412" stroke="#262626" stroke-width="7.5" stroke-linecap="butt"/>
<line x1="251.2" y1="124" x2="272.2" y2="124" stroke="#262626" stroke-width="7.5" stroke-linecap="butt"/>
<line x1="1990.8" y1="124" x2="1969.8" y2="124" stroke="#262626" stroke-width="7.5" stroke-linecap="butt"/>
<rect x="251.2" y="52.5" width="1739.6" height="1078.5" fill="none" stroke="#262626" stroke-width="7.5"/>
<text x="252.7" y="1235" font-size="82" fill="#262626" text-anchor="middle">1530</text>
<text x="501.2" y="1235" font-size="82" fill="#262626" text-anchor="middle">1540</text>
<text x="749.7" y="1235" font-size="82" fill="#262626" text-anchor="middle">1550</text>
<text x="998.2" y="1235" font-size="82" fill="#262626" text-anchor="middle">1560</text>
<text x="1246.8" y="1235" font-size="82" fill="#262626" text-anchor="middle">1570</text>
<text x="1495.3" y="1235" font-size="82" fill="#262626" text-anchor="middle">1580</text>
<text x="1743.8" y="1235" font-size="82" fill="#262626" text-anchor="middle">1590</text>
<text x="1992.3" y="1235" font-size="82" fill="#262626" text-anchor="middle">1600</text>
<text x="223.5" y="152.5" font-size="82" fill="#262626" text-anchor="end">1</text>
<text x="223.5" y="440.5" font-size="82" fill="#262626" text-anchor="end">0.8</text>
<text x="223.5" y="728.5" font-size="82" fill="#262626" text-anchor="end">0.6</text>
<text x="223.5" y="1016.5" font-size="82" fill="#262626" text-anchor="end">0.4</text>
<text x="1124" y="1333.4" font-size="83" fill="#262626" text-anchor="middle">Wavelength (nm)</text>
<text x="0" y="0" font-size="84" fill="#262626" text-anchor="middle" transform="translate(88.5 591.8) rotate(-90)" style="font-variant-ligatures: discretionary-ligatures">Reflection</text>
<line x1="349.5" y1="2579" x2="349.5" y2="2558" stroke="#262626" stroke-width="7.5" stroke-linecap="butt"/>
<line x1="349.5" y1="1505" x2="349.5" y2="1526" stroke="#262626" stroke-width="7.5" stroke-linecap="butt"/>
<line x1="677.7" y1="2579" x2="677.7" y2="2558" stroke="#262626" stroke-width="7.5" stroke-linecap="butt"/>
<line x1="677.7" y1="1505" x2="677.7" y2="1526" stroke="#262626" stroke-width="7.5" stroke-linecap="butt"/>
<line x1="1005.9" y1="2579" x2="1005.9" y2="2558" stroke="#262626" stroke-width="7.5" stroke-linecap="butt"/>
<line x1="1005.9" y1="1505" x2="1005.9" y2="1526" stroke="#262626" stroke-width="7.5" stroke-linecap="butt"/>
<line x1="1334.1" y1="2579" x2="1334.1" y2="2558" stroke="#262626" stroke-width="7.5" stroke-linecap="butt"/>
<line x1="1334.1" y1="1505" x2="1334.1" y2="1526" stroke="#262626" stroke-width="7.5" stroke-linecap="butt"/>
<line x1="1662.3" y1="2579" x2="1662.3" y2="2558" stroke="#262626" stroke-width="7.5" stroke-linecap="butt"/>
<line x1="1662.3" y1="1505" x2="1662.3" y2="1526" stroke="#262626" stroke-width="7.5" stroke-linecap="butt"/>
<line x1="251" y1="2461.7" x2="272" y2="2461.7" stroke="#262626" stroke-width="7.5" stroke-linecap="butt"/>
<line x1="1990.5" y1="2461.7" x2="1969.5" y2="2461.7" stroke="#262626" stroke-width="7.5" stroke-linecap="butt"/>
<line x1="251" y1="2230.9" x2="272" y2="2230.9" stroke="#262626" stroke-width="7.5" stroke-linecap="butt"/>
<line x1="1990.5" y1="2230.9" x2="1969.5" y2="2230.9" stroke="#262626" stroke-width="7.5" stroke-linecap="butt"/>
<line x1="251" y1="2000.2" x2="272" y2="2000.2" stroke="#262626" stroke-width="7.5" stroke-linecap="butt"/>
<line x1="1990.5" y1="2000.2" x2="1969.5" y2="2000.2" stroke="#262626" stroke-width="7.5" stroke-linecap="butt"/>
<line x1="251" y1="1769.5" x2="272" y2="1769.5" stroke="#262626" stroke-width="7.5" stroke-linecap="butt"/>
<line x1="1990.5" y1="1769.5" x2="1969.5" y2="1769.5" stroke="#262626" stroke-width="7.5" stroke-linecap="butt"/>
<line x1="251" y1="1538.7" x2="272" y2="1538.7" stroke="#262626" stroke-width="7.5" stroke-linecap="butt"/>
<line x1="1990.5" y1="1538.7" x2="1969.5" y2="1538.7" stroke="#262626" stroke-width="7.5" stroke-linecap="butt"/>
<rect x="251" y="1505" width="1739.5" height="1074" fill="none" stroke="#262626" stroke-width="7.5"/>
<text x="351" y="2683" font-size="82" fill="#262626" text-anchor="middle">1540</text>
<text x="679.2" y="2683" font-size="82" fill="#262626" text-anchor="middle">1550</text>
<text x="1007.4" y="2683" font-size="82" fill="#262626" text-anchor="middle">1560</text>
<text x="1335.6" y="2683" font-size="82" fill="#262626" text-anchor="middle">1570</text>
<text x="1663.8" y="2683" font-size="82" fill="#262626" text-anchor="middle">1580</text>
<text x="1992" y="2683" font-size="82" fill="#262626" text-anchor="middle">1590</text>
<text x="223.5" y="1567.2" font-size="82" fill="#262626" text-anchor="end">1</text>
<text x="223.5" y="1797.9" font-size="82" fill="#262626" text-anchor="end">0.8</text>
<text x="223.5" y="2028.7" font-size="82" fill="#262626" text-anchor="end">0.6</text>
<text x="223.5" y="2259.4" font-size="82" fill="#262626" text-anchor="end">0.4</text>
<text x="223.5" y="2490.2" font-size="82" fill="#262626" text-anchor="end">0.2</text>
<text x="1123.8" y="2781.4" font-size="83" fill="#262626" text-anchor="middle">Wavelength (nm)</text>
<text x="0" y="0" font-size="84" fill="#262626" text-anchor="middle" transform="translate(88.5 2042) rotate(-90)" style="font-variant-ligatures: discretionary-ligatures">Reflection</text>
<line x1="599.7" y1="4034" x2="599.7" y2="4013" stroke="#262626" stroke-width="7.5" stroke-linecap="butt"/>
<line x1="599.7" y1="2955.5" x2="599.7" y2="2976.5" stroke="#262626" stroke-width="7.5" stroke-linecap="butt"/>
<line x1="947.4" y1="4034" x2="947.4" y2="4013" stroke="#262626" stroke-width="7.5" stroke-linecap="butt"/>
<line x1="947.4" y1="2955.5" x2="947.4" y2="2976.5" stroke="#262626" stroke-width="7.5" stroke-linecap="butt"/>
<line x1="1295.1" y1="4034" x2="1295.1" y2="4013" stroke="#262626" stroke-width="7.5" stroke-linecap="butt"/>
<line x1="1295.1" y1="2955.5" x2="1295.1" y2="2976.5" stroke="#262626" stroke-width="7.5" stroke-linecap="butt"/>
<line x1="1642.8" y1="4034" x2="1642.8" y2="4013" stroke="#262626" stroke-width="7.5" stroke-linecap="butt"/>
<line x1="1642.8" y1="2955.5" x2="1642.8" y2="2976.5" stroke="#262626" stroke-width="7.5" stroke-linecap="butt"/>
<line x1="252" y1="3828.4" x2="273" y2="3828.4" stroke="#262626" stroke-width="7.5" stroke-linecap="butt"/>
<line x1="1990.5" y1="3828.4" x2="1969.5" y2="3828.4" stroke="#262626" stroke-width="7.5" stroke-linecap="butt"/>
<line x1="252" y1="3622.9" x2="273" y2="3622.9" stroke="#262626" stroke-width="7.5" stroke-linecap="butt"/>
<line x1="1990.5" y1="3622.9" x2="1969.5" y2="3622.9" stroke="#262626" stroke-width="7.5" stroke-linecap="butt"/>
<line x1="252" y1="3417.5" x2="273" y2="3417.5" stroke="#262626" stroke-width="7.5" stroke-linecap="butt"/>
<line x1="1990.5" y1="3417.5" x2="1969.5" y2="3417.5" stroke="#262626" stroke-width="7.5" stroke-linecap="butt"/>
<line x1="252" y1="3212" x2="273" y2="3212" stroke="#262626" stroke-width="7.5" stroke-linecap="butt"/>
<line x1="1990.5" y1="3212" x2="1969.5" y2="3212" stroke="#262626" stroke-width="7.5" stroke-linecap="butt"/>
<line x1="252" y1="3006.6" x2="273" y2="3006.6" stroke="#262626" stroke-width="7.5" stroke-linecap="butt"/>
<line x1="1990.5" y1="3006.6" x2="1969.5" y2="3006.6" stroke="#262626" stroke-width="7.5" stroke-linecap="butt"/>
<rect x="252" y="2955.5" width="1738.5" height="1078.5" fill="none" stroke="#262626" stroke-width="7.5"/>
<text x="253.5" y="4138" font-size="82" fill="#262626" text-anchor="middle">1400</text>
<text x="601.2" y="4138" font-size="82" fill="#262626" text-anchor="middle">1500</text>
<text x="948.9" y="4138" font-size="82" fill="#262626" text-anchor="middle">1600</text>
<text x="1296.6" y="4138" font-size="82" fill="#262626" text-anchor="middle">1700</text>
<text x="1644.3" y="4138" font-size="82" fill="#262626" text-anchor="middle">1800</text>
<text x="1992" y="4138" font-size="82" fill="#262626" text-anchor="middle">1900</text>
<text x="223.5" y="3035.1" font-size="82" fill="#262626" text-anchor="end">1</text>
<text x="223.5" y="3240.5" font-size="82" fill="#262626" text-anchor="end">0.8</text>
<text x="223.5" y="3445.9" font-size="82" fill="#262626" text-anchor="end">0.6</text>
<text x="223.5" y="3651.4" font-size="82" fill="#262626" text-anchor="end">0.4</text>
<text x="223.5" y="3856.8" font-size="82" fill="#262626" text-anchor="end">0.2</text>
<text x="223.5" y="4062.3" font-size="82" fill="#262626" text-anchor="end">0</text>
<text x="1124.2" y="4236.4" font-size="83" fill="#262626" text-anchor="middle">Wavelength (nm)</text>
<text x="0" y="0" font-size="84" fill="#262626" text-anchor="middle" transform="translate(88.5 3494.8) rotate(-90)" style="font-variant-ligatures: discretionary-ligatures">Reflection</text>
<rect x="268.5" y="605" width="514.5" height="485" fill="#fff" stroke="#262626" stroke-width="6.5"/>
<line x1="282.7" y1="658.4" x2="437.4" y2="658.4" stroke="#0072BD" stroke-width="6.5" stroke-linecap="butt"/>
<text x="448.3" y="687.4" font-size="82.5" fill="#000" text-anchor="start">d=400nm</text>
<line x1="282.7" y1="753" x2="437.4" y2="753" stroke="#D95319" stroke-width="6.5" stroke-linecap="butt"/>
<text x="448.3" y="782" font-size="82.5" fill="#000" text-anchor="start">d=420nm</text>
<line x1="282.7" y1="847.6" x2="437.4" y2="847.6" stroke="#EDB120" stroke-width="6.5" stroke-linecap="butt"/>
<text x="448.3" y="876.6" font-size="82.5" fill="#000" text-anchor="start">d=440nm</text>
<line x1="282.7" y1="942.2" x2="437.4" y2="942.2" stroke="#7E2F8E" stroke-width="6.5" stroke-linecap="butt"/>
<text x="448.3" y="971.2" font-size="82.5" fill="#000" text-anchor="start">d=460nm</text>
<line x1="282.7" y1="1036.8" x2="437.4" y2="1036.8" stroke="#77AC30" stroke-width="6.5" stroke-linecap="butt"/>
<text x="448.3" y="1065.8" font-size="82.5" fill="#000" text-anchor="start">d=480nm</text>
<rect x="271.8" y="2064.6" width="535.9" height="482.4" fill="#fff" stroke="#262626" stroke-width="6.5"/>
<line x1="287.7" y1="2118.1" x2="443.9" y2="2118.1" stroke="#0072BD" stroke-width="6.5" stroke-linecap="butt"/>
<text x="459" y="2147.1" font-size="82.5" fill="#000" text-anchor="start">w=280nm</text>
<line x1="287.7" y1="2212.3" x2="443.9" y2="2212.3" stroke="#D95319" stroke-width="6.5" stroke-linecap="butt"/>
<text x="459" y="2241.3" font-size="82.5" fill="#000" text-anchor="start">w=300nm</text>
<line x1="287.7" y1="2306.5" x2="443.9" y2="2306.5" stroke="#EDB120" stroke-width="6.5" stroke-linecap="butt"/>
<text x="459" y="2335.5" font-size="82.5" fill="#000" text-anchor="start">w=320nm</text>
<line x1="287.7" y1="2400.7" x2="443.9" y2="2400.7" stroke="#7E2F8E" stroke-width="6.5" stroke-linecap="butt"/>
<text x="459" y="2429.7" font-size="82.5" fill="#000" text-anchor="start">w=340nm</text>
<line x1="287.7" y1="2494.9" x2="443.9" y2="2494.9" stroke="#77AC30" stroke-width="6.5" stroke-linecap="butt"/>
<text x="459" y="2523.9" font-size="82.5" fill="#000" text-anchor="start">w=360nm</text>
<rect x="1412.6" y="2977.8" width="554.4" height="485" fill="#fff" stroke="#262626" stroke-width="6.5"/>
<line x1="1429" y1="3031.3" x2="1582.6" y2="3031.3" stroke="#0072BD" stroke-width="6.5" stroke-linecap="butt"/>
<text x="1596" y="3060.3" font-size="82.5" fill="#000" text-anchor="start">a=970nm</text>
<line x1="1429" y1="3125.8" x2="1582.6" y2="3125.8" stroke="#D95319" stroke-width="6.5" stroke-linecap="butt"/>
<text x="1596" y="3154.8" font-size="82.5" fill="#000" text-anchor="start">a=1020nm</text>
<line x1="1429" y1="3220.3" x2="1582.6" y2="3220.3" stroke="#EDB120" stroke-width="6.5" stroke-linecap="butt"/>
<text x="1596" y="3249.3" font-size="82.5" fill="#000" text-anchor="start">a=1070nm</text>
<line x1="1429" y1="3314.8" x2="1582.6" y2="3314.8" stroke="#7E2F8E" stroke-width="6.5" stroke-linecap="butt"/>
<text x="1596" y="3343.8" font-size="82.5" fill="#000" text-anchor="start">a=1120nm</text>
<line x1="1429" y1="3409.3" x2="1582.6" y2="3409.3" stroke="#77AC30" stroke-width="6.5" stroke-linecap="butt"/>
<text x="1596" y="3438.3" font-size="82.5" fill="#000" text-anchor="start">a=1170nm</text>
<text x="1864" y="1069.9" font-size="90" fill="#262626" text-anchor="middle">(a)</text>
<text x="1868" y="2502.7" font-size="90" fill="#262626" text-anchor="middle">(b)</text>
<text x="1910" y="3973.5" font-size="90" fill="#262626" text-anchor="middle">(c)</text>
<line x1="1574" y1="916.4" x2="1574" y2="909.4" stroke="#262626" stroke-width="4.5" stroke-linecap="butt"/>
<line x1="1574" y1="566" x2="1574" y2="573" stroke="#262626" stroke-width="4.5" stroke-linecap="butt"/>
<line x1="1369.8" y1="652.5" x2="1376.8" y2="652.5" stroke="#0072BD" stroke-width="4.5" stroke-linecap="butt"/>
<line x1="1369.8" y1="829" x2="1376.8" y2="829" stroke="#0072BD" stroke-width="4.5" stroke-linecap="butt"/>
<line x1="1696.6" y1="597" x2="1689.6" y2="597" stroke="#D95319" stroke-width="4.5" stroke-linecap="butt"/>
<path d="M1369.8 712.7 L1451.5 720.7 L1533.2 723.2 L1614.9 725.4 L1696.6 754.9" fill="none" stroke="#0072BD" stroke-width="5.2" stroke-linejoin="round" stroke-linecap="butt"/>
<path d="M1369.8 860.1 L1451.5 770.7 L1533.2 723.8 L1614.9 719.1 L1696.6 712.7" fill="none" stroke="#D95319" stroke-width="5.2" stroke-linejoin="round" stroke-linecap="butt"/>
<circle cx="1369.8" cy="712.7" r="15.5" fill="none" stroke="#0072BD" stroke-width="4.6"/>
<circle cx="1451.5" cy="720.7" r="15.5" fill="none" stroke="#0072BD" stroke-width="4.6"/>
<circle cx="1533.2" cy="723.2" r="15.5" fill="none" stroke="#0072BD" stroke-width="4.6"/>
<circle cx="1614.9" cy="725.4" r="15.5" fill="none" stroke="#0072BD" stroke-width="4.6"/>
<circle cx="1696.6" cy="754.9" r="15.5" fill="none" stroke="#0072BD" stroke-width="4.6"/>
<circle cx="1369.8" cy="860.1" r="15.5" fill="none" stroke="#D95319" stroke-width="4.6"/>
<circle cx="1451.5" cy="770.7" r="15.5" fill="none" stroke="#D95319" stroke-width="4.6"/>
<circle cx="1533.2" cy="723.8" r="15.5" fill="none" stroke="#D95319" stroke-width="4.6"/>
<circle cx="1614.9" cy="719.1" r="15.5" fill="none" stroke="#D95319" stroke-width="4.6"/>
<circle cx="1696.6" cy="712.7" r="15.5" fill="none" stroke="#D95319" stroke-width="4.6"/>
<line x1="1366.8" y1="566" x2="1696.6" y2="566" stroke="#262626" stroke-width="6.5" stroke-linecap="butt"/>
<line x1="1366.8" y1="916.4" x2="1696.6" y2="916.4" stroke="#262626" stroke-width="6.5" stroke-linecap="butt"/>
<line x1="1369.8" y1="562.8" x2="1369.8" y2="919.6" stroke="#0072BD" stroke-width="6" stroke-linecap="butt"/>
<line x1="1696.6" y1="562.8" x2="1696.6" y2="919.6" stroke="#D95319" stroke-width="6.5" stroke-linecap="butt"/>
<text x="1369.8" y="997.9" font-size="62" fill="#262626" text-anchor="middle">400</text>
<text x="1574" y="997.9" font-size="62" fill="#262626" text-anchor="middle">450</text>
<text x="1345" y="677.3" font-size="62" fill="#0072BD" text-anchor="end">600</text>
<text x="1345" y="853.8" font-size="62" fill="#0072BD" text-anchor="end">400</text>
<text x="1719" y="620.8" font-size="62" fill="#D95319" text-anchor="start">0.65</text>
<text x="1719" y="945.7" font-size="62" fill="#D95319" text-anchor="start">0.6</text>
<text x="1533.2" y="1064.9" font-size="62" fill="#262626" text-anchor="middle">d (nm)</text>
<text x="0" y="0" font-size="62" fill="#0072BD" text-anchor="middle" transform="translate(1224 741.2) rotate(-90)">FOM (/RIU)</text>
<text x="0" y="0" font-size="62" fill="#D95319" text-anchor="middle" transform="translate(1902 741.2) rotate(-90)">Contrast ratio</text>
<line x1="1542.4" y1="2378.3" x2="1542.4" y2="2371.3" stroke="#262626" stroke-width="4.5" stroke-linecap="butt"/>
<line x1="1542.4" y1="2028" x2="1542.4" y2="2035" stroke="#262626" stroke-width="4.5" stroke-linecap="butt"/>
<line x1="1697.3" y1="2378.3" x2="1697.3" y2="2371.3" stroke="#262626" stroke-width="4.5" stroke-linecap="butt"/>
<line x1="1697.3" y1="2028" x2="1697.3" y2="2035" stroke="#262626" stroke-width="4.5" stroke-linecap="butt"/>
<line x1="1480.4" y1="2261.5" x2="1487.4" y2="2261.5" stroke="#0072BD" stroke-width="4.5" stroke-linecap="butt"/>
<line x1="1480.4" y1="2144.7" x2="1487.4" y2="2144.7" stroke="#0072BD" stroke-width="4.5" stroke-linecap="butt"/>
<line x1="1728.3" y1="2203.1" x2="1721.3" y2="2203.1" stroke="#D95319" stroke-width="4.5" stroke-linecap="butt"/>
<path d="M1480.4 2144.9 L1542.4 2167.0 L1604.3 2189.1 L1666.3 2190.4 L1728.3 2223.5" fill="none" stroke="#0072BD" stroke-width="5.2" stroke-linejoin="round" stroke-linecap="butt"/>
<path d="M1480.4 2362.3 L1542.4 2277.6 L1604.3 2194.0 L1666.3 2101.9 L1728.3 2035.6" fill="none" stroke="#D95319" stroke-width="5.2" stroke-linejoin="round" stroke-linecap="butt"/>
<circle cx="1480.4" cy="2144.9" r="15.5" fill="none" stroke="#0072BD" stroke-width="4.6"/>
<circle cx="1542.4" cy="2167" r="15.5" fill="none" stroke="#0072BD" stroke-width="4.6"/>
<circle cx="1604.3" cy="2189.1" r="15.5" fill="none" stroke="#0072BD" stroke-width="4.6"/>
<circle cx="1666.3" cy="2190.4" r="15.5" fill="none" stroke="#0072BD" stroke-width="4.6"/>
<circle cx="1480.4" cy="2362.3" r="15.5" fill="none" stroke="#D95319" stroke-width="4.6"/>
<circle cx="1542.4" cy="2277.6" r="15.5" fill="none" stroke="#D95319" stroke-width="4.6"/>
<circle cx="1604.3" cy="2194" r="15.5" fill="none" stroke="#D95319" stroke-width="4.6"/>
<circle cx="1666.3" cy="2101.9" r="15.5" fill="none" stroke="#D95319" stroke-width="4.6"/>
<line x1="1477.9" y1="2028" x2="1728.3" y2="2028" stroke="#262626" stroke-width="6.5" stroke-linecap="butt"/>
<line x1="1477.9" y1="2378.3" x2="1728.3" y2="2378.3" stroke="#262626" stroke-width="6.5" stroke-linecap="butt"/>
<line x1="1480.4" y1="2024.8" x2="1480.4" y2="2381.6" stroke="#0072BD" stroke-width="5" stroke-linecap="butt"/>
<line x1="1728.3" y1="2024.8" x2="1728.3" y2="2381.6" stroke="#D95319" stroke-width="6.5" stroke-linecap="butt"/>
<text x="1542.4" y="2459.8" font-size="62" fill="#262626" text-anchor="middle">300</text>
<text x="1697.3" y="2459.8" font-size="62" fill="#262626" text-anchor="middle">350</text>
<text x="1454.6" y="2051.3" font-size="62" fill="#0072BD" text-anchor="end">800</text>
<text x="1454.6" y="2169" font-size="62" fill="#0072BD" text-anchor="end">600</text>
<text x="1454.6" y="2286.7" font-size="62" fill="#0072BD" text-anchor="end">400</text>
<text x="1454.6" y="2400.4" font-size="62" fill="#0072BD" text-anchor="end">200</text>
<text x="1751.3" y="2068.3" font-size="62" fill="#D95319" text-anchor="start">0.8</text>
<text x="1751.3" y="2236.9" font-size="62" fill="#D95319" text-anchor="start">0.6</text>
<text x="1751.3" y="2400.4" font-size="62" fill="#D95319" text-anchor="start">0.4</text>
<text x="1604.3" y="2526.8" font-size="62" fill="#262626" text-anchor="middle">w (nm)</text>
<text x="0" y="0" font-size="62" fill="#0072BD" text-anchor="middle" transform="translate(1338 2203.2) rotate(-90)">FOM (/RIU)</text>
<text x="0" y="0" font-size="62" fill="#D95319" text-anchor="middle" transform="translate(1903 2203.2) rotate(-90)">Contrast ratio</text>
<line x1="1338.8" y1="3847.8" x2="1338.8" y2="3840.8" stroke="#262626" stroke-width="4.5" stroke-linecap="butt"/>
<line x1="1338.8" y1="3566" x2="1338.8" y2="3573" stroke="#262626" stroke-width="4.5" stroke-linecap="butt"/>
<line x1="1518" y1="3847.8" x2="1518" y2="3840.8" stroke="#262626" stroke-width="4.5" stroke-linecap="butt"/>
<line x1="1518" y1="3566" x2="1518" y2="3573" stroke="#262626" stroke-width="4.5" stroke-linecap="butt"/>
<line x1="1285" y1="3734.7" x2="1292" y2="3734.7" stroke="#0072BD" stroke-width="4.5" stroke-linecap="butt"/>
<line x1="1285" y1="3621.5" x2="1292" y2="3621.5" stroke="#0072BD" stroke-width="4.5" stroke-linecap="butt"/>
<line x1="1643.5" y1="3768.5" x2="1636.5" y2="3768.5" stroke="#D95319" stroke-width="4.5" stroke-linecap="butt"/>
<path d="M1285.0 3802.9 L1374.6 3758.0 L1464.2 3713.0 L1553.9 3661.5 L1643.5 3611.5" fill="none" stroke="#0072BD" stroke-width="5.2" stroke-linejoin="round" stroke-linecap="butt"/>
<path d="M1285.0 3647.2 L1374.6 3686.4 L1464.2 3713.0 L1553.9 3741.3 L1643.5 3768.0" fill="none" stroke="#D95319" stroke-width="5.2" stroke-linejoin="round" stroke-linecap="butt"/>
<circle cx="1285" cy="3802.9" r="15.5" fill="none" stroke="#0072BD" stroke-width="4.6"/>
<circle cx="1374.6" cy="3758" r="15.5" fill="none" stroke="#0072BD" stroke-width="4.6"/>
<circle cx="1464.2" cy="3713" r="15.5" fill="none" stroke="#0072BD" stroke-width="4.6"/>
<circle cx="1553.9" cy="3661.5" r="15.5" fill="none" stroke="#0072BD" stroke-width="4.6"/>
<circle cx="1643.5" cy="3611.5" r="15.5" fill="none" stroke="#0072BD" stroke-width="4.6"/>
<circle cx="1285" cy="3647.2" r="15.5" fill="none" stroke="#D95319" stroke-width="4.6"/>
<circle cx="1374.6" cy="3686.4" r="15.5" fill="none" stroke="#D95319" stroke-width="4.6"/>
<circle cx="1464.2" cy="3713" r="15.5" fill="none" stroke="#D95319" stroke-width="4.6"/>
<circle cx="1553.9" cy="3741.3" r="15.5" fill="none" stroke="#D95319" stroke-width="4.6"/>
<circle cx="1643.5" cy="3768" r="15.5" fill="none" stroke="#D95319" stroke-width="4.6"/>
<line x1="1282" y1="3566" x2="1643.5" y2="3566" stroke="#262626" stroke-width="6.5" stroke-linecap="butt"/>
<line x1="1282" y1="3847.8" x2="1643.5" y2="3847.8" stroke="#262626" stroke-width="6.5" stroke-linecap="butt"/>
<line x1="1285" y1="3562.8" x2="1285" y2="3851.1" stroke="#0072BD" stroke-width="6" stroke-linecap="butt"/>
<line x1="1643.5" y1="3562.8" x2="1643.5" y2="3851.1" stroke="#D95319" stroke-width="6.5" stroke-linecap="butt"/>
<text x="1338.8" y="3929.3" font-size="62" fill="#262626" text-anchor="middle">1000</text>
<text x="1518" y="3929.3" font-size="62" fill="#262626" text-anchor="middle">1100</text>
<text x="1256.3" y="3651.3" font-size="62" fill="#0072BD" text-anchor="end">600</text>
<text x="1256.3" y="3762.5" font-size="62" fill="#0072BD" text-anchor="end">500</text>
<text x="1256.3" y="3870.8" font-size="62" fill="#0072BD" text-anchor="end">400</text>
<text x="1666.5" y="3588.8" font-size="62" fill="#D95319" text-anchor="start">1</text>
<text x="1666.5" y="3789.3" font-size="62" fill="#D95319" text-anchor="start">0.5</text>
<text x="1464.2" y="3996.3" font-size="62" fill="#262626" text-anchor="middle">a (nm)</text>
<text x="0" y="0" font-size="62" fill="#0072BD" text-anchor="middle" transform="translate(1140.5 3706.9) rotate(-90)">FOM (/RIU)</text>
<text x="0" y="0" font-size="62" fill="#D95319" text-anchor="middle" transform="translate(1818.5 3706.9) rotate(-90)">Contrast ratio</text>
</svg></body></html>
